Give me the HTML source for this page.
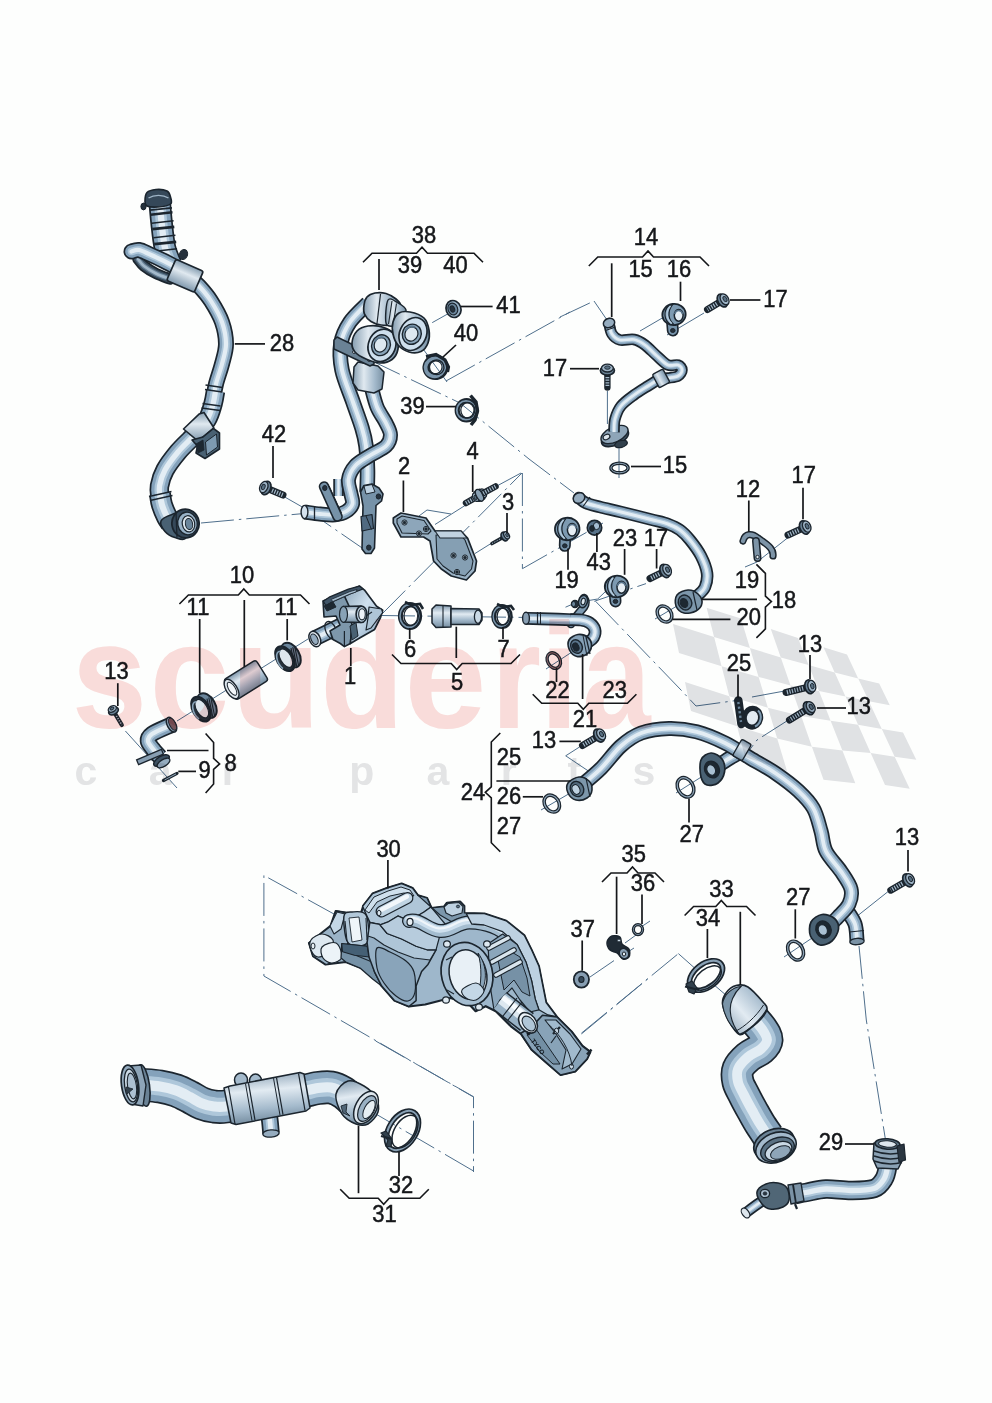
<!DOCTYPE html>
<html><head><meta charset="utf-8"><title>Coolant pipes diagram</title>
<style>html,body{margin:0;padding:0;background:#fdfefd}svg{display:block}
text{font-family:"Liberation Sans",Arial,sans-serif;fill:#15171a;stroke:#15171a;stroke-width:0.5px}</style></head>
<body><svg width="992" height="1403" viewBox="0 0 992 1403">
<defs>
<linearGradient id="gcyl" x1="0" y1="0" x2="1" y2="0"><stop offset="0" stop-color="#869eb1"/><stop offset="0.35" stop-color="#e0e9f0"/><stop offset="0.7" stop-color="#a4bacc"/><stop offset="1" stop-color="#768ea1"/></linearGradient>
<linearGradient id="gcol" x1="0" y1="0" x2="0" y2="1"><stop offset="0" stop-color="#869eb1"/><stop offset="0.4" stop-color="#e0e9f0"/><stop offset="1" stop-color="#7f98ad"/></linearGradient>
<linearGradient id="gcylh" x1="0" y1="0" x2="0" y2="1"><stop offset="0" stop-color="#7f98ad"/><stop offset="0.35" stop-color="#e2ebf2"/><stop offset="0.7" stop-color="#a4bacc"/><stop offset="1" stop-color="#768ea1"/></linearGradient>
<linearGradient id="gtube" x1="0" y1="0" x2="0.15" y2="1"><stop offset="0" stop-color="#7f98ad"/><stop offset="0.4" stop-color="#e2ebf2"/><stop offset="0.75" stop-color="#a4bacc"/><stop offset="1" stop-color="#768ea1"/></linearGradient>
<linearGradient id="gtube2" x1="0" y1="1" x2="1" y2="0"><stop offset="0" stop-color="#7f98ad"/><stop offset="0.45" stop-color="#e2ebf2"/><stop offset="0.8" stop-color="#a4bacc"/><stop offset="1" stop-color="#768ea1"/></linearGradient>
<linearGradient id="gpump" x1="0" y1="0" x2="1" y2="1"><stop offset="0" stop-color="#88a2b6"/><stop offset="0.45" stop-color="#d0e1ef"/><stop offset="0.75" stop-color="#a4bdd2"/><stop offset="1" stop-color="#7893a8"/></linearGradient>
<clipPath id="flagclip"><path d="M668 603L705 612L760 640L832 672L892 700L922 760L906 792L850 772L790 748L742 726L706 702L690 692Z"/></clipPath>
</defs>
<rect width="992" height="1403" fill="#fdfefd"/>
<path d="M201 523L304 513.5" fill="none" stroke="#4f6f8c" stroke-width="1" stroke-dasharray="33 5 2.5 5"/>
<path d="M283 496L304 508" fill="none" stroke="#4f6f8c" stroke-width="1"/>
<path d="M304 508L368 552" fill="none" stroke="#4f6f8c" stroke-width="1" stroke-dasharray="33 5 2.5 5"/>
<path d="M461 306.5L428 325" fill="none" stroke="#4f6f8c" stroke-width="1" stroke-dasharray="33 5 2.5 5"/>
<path d="M413 335L447 382" fill="none" stroke="#4f6f8c" stroke-width="1"/>
<path d="M446 381L570 312" fill="none" stroke="#4f6f8c" stroke-width="1" stroke-dasharray="33 5 2.5 5"/>
<path d="M370 360L460 403L529 459L574 493" fill="none" stroke="#4f6f8c" stroke-width="1" stroke-dasharray="33 5 2.5 5"/>
<path d="M560 317L594 301" fill="none" stroke="#4f6f8c" stroke-width="1" stroke-dasharray="33 5 2.5 5"/>
<path d="M594 301L607 320" fill="none" stroke="#4f6f8c" stroke-width="1"/>
<path d="M640 331L664 317" fill="none" stroke="#4f6f8c" stroke-width="1"/>
<path d="M667 335L704 313" fill="none" stroke="#4f6f8c" stroke-width="1"/>
<path d="M607.4 391L607.4 429" fill="none" stroke="#4f6f8c" stroke-width="1" stroke-dasharray="33 5 2.5 5"/>
<path d="M619 446L619 478" fill="none" stroke="#4f6f8c" stroke-width="1"/>
<path d="M382 614L522 473" fill="none" stroke="#4f6f8c" stroke-width="1" stroke-dasharray="33 5 2.5 5"/>
<path d="M522.4 473L522.4 568.7L603 523" fill="none" stroke="#4f6f8c" stroke-width="1" stroke-dasharray="33 5 2.5 5"/>
<path d="M419 516L427 510L451 514" fill="none" stroke="#4f6f8c" stroke-width="1"/>
<path d="M435 524.5L465 505.5" fill="none" stroke="#4f6f8c" stroke-width="1"/>
<path d="M495 487L521 473" fill="none" stroke="#4f6f8c" stroke-width="1"/>
<path d="M491 543.5L475 553.5" fill="none" stroke="#4f6f8c" stroke-width="1"/>
<path d="M382 615.5L530 617.5" fill="none" stroke="#4f6f8c" stroke-width="1" stroke-dasharray="33 5 2.5 5"/>
<path d="M177 721L308 639" fill="none" stroke="#4f6f8c" stroke-width="1"/>
<path d="M125.4 731L177 788" fill="none" stroke="#4f6f8c" stroke-width="1" stroke-dasharray="33 5 2.5 5"/>
<path d="M565.5 607.2L571.5 604.6" fill="none" stroke="#4f6f8c" stroke-width="1"/>
<path d="M587 600.8L597.7 599L606 591" fill="none" stroke="#4f6f8c" stroke-width="1"/>
<path d="M594.3 601.3L646 583.6" fill="none" stroke="#4f6f8c" stroke-width="1" stroke-dasharray="33 5 2.5 5"/>
<path d="M595.6 601.3L681 690L696 706L740 700" fill="none" stroke="#4f6f8c" stroke-width="1" stroke-dasharray="33 5 2.5 5"/>
<path d="M752 697L790 690" fill="none" stroke="#4f6f8c" stroke-width="1" stroke-dasharray="33 5 2.5 5"/>
<path d="M546 669L572 652" fill="none" stroke="#4f6f8c" stroke-width="1"/>
<path d="M655 619L682 603" fill="none" stroke="#4f6f8c" stroke-width="1"/>
<path d="M757 562L790 536" fill="none" stroke="#4f6f8c" stroke-width="1"/>
<path d="M745 567L757 562" fill="none" stroke="#4f6f8c" stroke-width="1"/>
<path d="M579.5 747L565.7 755.8L588.4 771" fill="none" stroke="#4f6f8c" stroke-width="1"/>
<path d="M541 810L572 792" fill="none" stroke="#4f6f8c" stroke-width="1"/>
<path d="M676 793L706 774" fill="none" stroke="#4f6f8c" stroke-width="1"/>
<path d="M790 719L757 740L748 752" fill="none" stroke="#4f6f8c" stroke-width="1" stroke-dasharray="33 5 2.5 5"/>
<path d="M888 891.6L856 917" fill="none" stroke="#4f6f8c" stroke-width="1"/>
<path d="M784 957L818 934" fill="none" stroke="#4f6f8c" stroke-width="1"/>
<path d="M859 946L866.3 1020L885.2 1138" fill="none" stroke="#4f6f8c" stroke-width="1" stroke-dasharray="33 5 2.5 5"/>
<path d="M590 977L614 960.6" fill="none" stroke="#4f6f8c" stroke-width="1"/>
<path d="M625 943L636 935" fill="none" stroke="#4f6f8c" stroke-width="1"/>
<path d="M641 927L650 921" fill="none" stroke="#4f6f8c" stroke-width="1"/>
<path d="M623 955L634 948" fill="none" stroke="#4f6f8c" stroke-width="1"/>
<path d="M581.4 1033.2L678.4 953.6" fill="none" stroke="#4f6f8c" stroke-width="1" stroke-dasharray="33 5 2.5 5"/>
<path d="M678.4 953.6L694.8 968.2" fill="none" stroke="#4f6f8c" stroke-width="1"/>
<path d="M713 984L727 996" fill="none" stroke="#4f6f8c" stroke-width="1"/>
<path d="M581.5 1033.9L650 977" fill="none" stroke="#4f6f8c" stroke-width="1" stroke-dasharray="33 5 2.5 5"/>
<path d="M337 915.7L263.9 875.4L263.9 976L473.5 1097" fill="none" stroke="#4f6f8c" stroke-width="1" stroke-dasharray="33 5 2.5 5"/>
<path d="M375.7 1041L473.5 1096.7L473.5 1172" fill="none" stroke="#4f6f8c" stroke-width="1" stroke-dasharray="33 5 2.5 5"/>
<path d="M473.5 1171L365.6 1108" fill="none" stroke="#4f6f8c" stroke-width="1" stroke-dasharray="33 5 2.5 5"/>
<g fill="none" stroke-linejoin="round" stroke-linecap="round">
<path d="M170 279C167.7 278.1 160.3 275.7 156 273.5C151.7 271.3 147 268.4 144 266C141 263.6 139 260.2 138 259" stroke="#1b252e" stroke-width="11.5"/>
<path d="M170 279C167.7 278.1 160.3 275.7 156 273.5C151.7 271.3 147 268.4 144 266C141 263.6 139 260.2 138 259" stroke="#3a4d5e" stroke-width="8.1"/>
<path d="M170 279C167.7 278.1 160.3 275.7 156 273.5C151.7 271.3 147 268.4 144 266C141 263.6 139 260.2 138 259" stroke="#6a8398" stroke-width="4.9"/>
<path d="M170 279C167.7 278.1 160.3 275.7 156 273.5C151.7 271.3 147 268.4 144 266C141 263.6 139 260.2 138 259" stroke="#a4b9ca" stroke-width="2.7"/>
</g>
<g fill="none" stroke-linejoin="round" stroke-linecap="butt">
<path d="M159.5 199C159.8 202.8 160.6 213.8 161.5 222C162.4 230.2 163.4 241 165 248C166.6 255 170 261.3 171 264" stroke="#1b252e" stroke-width="22.5"/>
<path d="M159.5 199C159.8 202.8 160.6 213.8 161.5 222C162.4 230.2 163.4 241 165 248C166.6 255 170 261.3 171 264" stroke="#84a2bb" stroke-width="19.1"/>
<path d="M159.5 199C159.8 202.8 160.6 213.8 161.5 222C162.4 230.2 163.4 241 165 248C166.6 255 170 261.3 171 264" stroke="#aec7da" stroke-width="11.5"/>
<path d="M159.5 199C159.8 202.8 160.6 213.8 161.5 222C162.4 230.2 163.4 241 165 248C166.6 255 170 261.3 171 264" stroke="#e3edf4" stroke-width="6.3"/>
</g>
<line x1="149.9" y1="210.2" x2="171.9" y2="207.8" stroke="#1b252e" stroke-width="1.8" />
<line x1="150.5" y1="214.7" x2="172.5" y2="212.3" stroke="#1b252e" stroke-width="2.6" />
<line x1="151.6" y1="223.2" x2="173.6" y2="220.8" stroke="#1b252e" stroke-width="1.6" />
<line x1="152.3" y1="229.2" x2="174.3" y2="226.8" stroke="#1b252e" stroke-width="2.8" />
<line x1="153.4" y1="237.7" x2="175.4" y2="235.3" stroke="#1b252e" stroke-width="1.6" />
<line x1="154.2" y1="244.2" x2="176.2" y2="241.8" stroke="#1b252e" stroke-width="2.8" />
<line x1="155.1" y1="251.2" x2="177.1" y2="248.8" stroke="#1b252e" stroke-width="1.6" />
<path d="M145 201C145 198.8 145.2 194.4 147 192.5C148.8 190.6 152.7 189.8 156 189.5C159.3 189.2 164.6 189.8 167 191C169.4 192.2 169.9 194.8 170.5 197C171.1 199.2 172.6 202.3 170.5 204C168.4 205.7 161.9 206.7 158 207C154.1 207.3 149.2 207 147 206C144.8 205 145 203.2 145 201Z" fill="#354859" stroke="#1b252e" stroke-width="1.6" stroke-linejoin="round" />
<path d="M148.5 198C154 194.5 163 194.5 168.5 198" fill="none" stroke="#9eb4c6" stroke-width="1.4"/>
<ellipse cx="143.5" cy="206.5" rx="2.6" ry="3.4" transform="rotate(0 143.5 206.5)" fill="#25313c" stroke="#1b252e" stroke-width="1"/>
<g fill="none" stroke-linejoin="round" stroke-linecap="round">
<path d="M178 268.5C175.7 267.2 168.7 263.3 164 261C159.3 258.7 154.2 256.3 150 254.5C145.8 252.7 142.1 250.5 139 250C135.9 249.5 132.8 251.2 131.5 251.5" stroke="#1b252e" stroke-width="16"/>
<path d="M178 268.5C175.7 267.2 168.7 263.3 164 261C159.3 258.7 154.2 256.3 150 254.5C145.8 252.7 142.1 250.5 139 250C135.9 249.5 132.8 251.2 131.5 251.5" stroke="#84a2bb" stroke-width="12.6"/>
<path d="M178 268.5C175.7 267.2 168.7 263.3 164 261C159.3 258.7 154.2 256.3 150 254.5C145.8 252.7 142.1 250.5 139 250C135.9 249.5 132.8 251.2 131.5 251.5" stroke="#aec7da" stroke-width="7.6"/>
<path d="M178 268.5C175.7 267.2 168.7 263.3 164 261C159.3 258.7 154.2 256.3 150 254.5C145.8 252.7 142.1 250.5 139 250C135.9 249.5 132.8 251.2 131.5 251.5" stroke="#e3edf4" stroke-width="4.2"/>
</g>
<g fill="none" stroke-linejoin="round" stroke-linecap="butt">
<path d="M190 278C191.5 279.3 195.5 282.2 199 286C202.5 289.8 207.2 295 211 301C214.8 307 219.5 314.8 222 322C224.5 329.2 226 337 226 344C226 351 223.7 357.3 222 364C220.3 370.7 217.5 378 216 384C214.5 390 214 395.3 213 400C212 404.7 210.5 410 210 412" stroke="#1b252e" stroke-width="16"/>
<path d="M190 278C191.5 279.3 195.5 282.2 199 286C202.5 289.8 207.2 295 211 301C214.8 307 219.5 314.8 222 322C224.5 329.2 226 337 226 344C226 351 223.7 357.3 222 364C220.3 370.7 217.5 378 216 384C214.5 390 214 395.3 213 400C212 404.7 210.5 410 210 412" stroke="#84a2bb" stroke-width="12.6"/>
<path d="M190 278C191.5 279.3 195.5 282.2 199 286C202.5 289.8 207.2 295 211 301C214.8 307 219.5 314.8 222 322C224.5 329.2 226 337 226 344C226 351 223.7 357.3 222 364C220.3 370.7 217.5 378 216 384C214.5 390 214 395.3 213 400C212 404.7 210.5 410 210 412" stroke="#aec7da" stroke-width="7.6"/>
<path d="M190 278C191.5 279.3 195.5 282.2 199 286C202.5 289.8 207.2 295 211 301C214.8 307 219.5 314.8 222 322C224.5 329.2 226 337 226 344C226 351 223.7 357.3 222 364C220.3 370.7 217.5 378 216 384C214.5 390 214 395.3 213 400C212 404.7 210.5 410 210 412" stroke="#e3edf4" stroke-width="4.2"/>
</g>
<g transform="rotate(23.5 185 275.8)">
<rect x="170" y="264.3" width="30" height="23" rx="2" fill="url(#gcol)" stroke="#1b252e" stroke-width="1.7"/>
</g>
<ellipse cx="183.5" cy="254.5" rx="4" ry="5" transform="rotate(20 183.5 254.5)" fill="#25313c" stroke="#1b252e" stroke-width="1"/>
<g fill="none" stroke-linejoin="round" stroke-linecap="butt">
<path d="M215.5 391C215.1 393.2 214.4 399.2 213 404C211.6 408.8 210.2 414.8 207 420C203.8 425.2 198.8 430.2 194 435.5C189.2 440.8 182.8 446.2 178 452C173.2 457.8 168.1 464.3 165 470C161.9 475.7 160.3 481.5 159.5 486C158.7 490.5 159.9 495.2 160 497" stroke="#1b252e" stroke-width="19.5"/>
<path d="M215.5 391C215.1 393.2 214.4 399.2 213 404C211.6 408.8 210.2 414.8 207 420C203.8 425.2 198.8 430.2 194 435.5C189.2 440.8 182.8 446.2 178 452C173.2 457.8 168.1 464.3 165 470C161.9 475.7 160.3 481.5 159.5 486C158.7 490.5 159.9 495.2 160 497" stroke="#84a2bb" stroke-width="16.1"/>
<path d="M215.5 391C215.1 393.2 214.4 399.2 213 404C211.6 408.8 210.2 414.8 207 420C203.8 425.2 198.8 430.2 194 435.5C189.2 440.8 182.8 446.2 178 452C173.2 457.8 168.1 464.3 165 470C161.9 475.7 160.3 481.5 159.5 486C158.7 490.5 159.9 495.2 160 497" stroke="#aec7da" stroke-width="9.7"/>
<path d="M215.5 391C215.1 393.2 214.4 399.2 213 404C211.6 408.8 210.2 414.8 207 420C203.8 425.2 198.8 430.2 194 435.5C189.2 440.8 182.8 446.2 178 452C173.2 457.8 168.1 464.3 165 470C161.9 475.7 160.3 481.5 159.5 486C158.7 490.5 159.9 495.2 160 497" stroke="#e3edf4" stroke-width="5.3"/>
</g>
<g fill="none" stroke-linejoin="round" stroke-linecap="butt">
<path d="M160 494C160.3 495.8 160.8 501.2 162 505C163.2 508.8 165.5 514 167 517C168.5 520 170.3 522 171 523" stroke="#1b252e" stroke-width="22"/>
<path d="M160 494C160.3 495.8 160.8 501.2 162 505C163.2 508.8 165.5 514 167 517C168.5 520 170.3 522 171 523" stroke="#84a2bb" stroke-width="18.6"/>
<path d="M160 494C160.3 495.8 160.8 501.2 162 505C163.2 508.8 165.5 514 167 517C168.5 520 170.3 522 171 523" stroke="#aec7da" stroke-width="11.2"/>
<path d="M160 494C160.3 495.8 160.8 501.2 162 505C163.2 508.8 165.5 514 167 517C168.5 520 170.3 522 171 523" stroke="#e3edf4" stroke-width="6.1"/>
</g>
<path d="M183.5 429L199.3 413.9L204 412.5L213.8 427.8L198 441.1Z" fill="url(#gcol)" stroke="#1b252e" stroke-width="1.6" stroke-linejoin="round" />
<line x1="205.5" y1="385" x2="222.5" y2="387.5" stroke="#1b252e" stroke-width="1.3" />
<line x1="205" y1="389.5" x2="222" y2="392" stroke="#1b252e" stroke-width="1.3" />
<line x1="202.5" y1="403.5" x2="220.5" y2="406" stroke="#1b252e" stroke-width="1.3" />
<line x1="201.5" y1="408" x2="220" y2="410.5" stroke="#1b252e" stroke-width="1.3" />
<line x1="149" y1="496.5" x2="171.5" y2="491.5" stroke="#1b252e" stroke-width="1.3" />
<line x1="150" y1="500.5" x2="172.5" y2="495.5" stroke="#1b252e" stroke-width="1.3" />
<path d="M203 437L213.5 428.5L219.5 433L219.5 449L205 458.5L196 453L197.5 446L192 440Z" fill="#496173" stroke="#1b252e" stroke-width="1.6" stroke-linejoin="round" />
<path d="M205.5 442L216.5 434L217.5 447L206.5 455Z" fill="#7d9ab1" stroke="#1b252e" stroke-width="1" stroke-linejoin="round" />
<path d="M196 444L203 440L204 450L198 453Z" fill="#1d2831" stroke="#1b252e" stroke-width="0.8" stroke-linejoin="round" />
<path d="M161 521C162.2 518.2 168.2 515.8 172 514.5C175.8 513.2 181.7 509.2 184 513C186.3 516.8 187.5 533.4 186 537.5C184.5 541.6 178.5 538.5 175 537.5C171.5 536.5 167.3 534.2 165 531.5C162.7 528.8 159.8 523.8 161 521Z" fill="#496173" stroke="#1b252e" stroke-width="1.6" stroke-linejoin="round" />
<ellipse cx="185.5" cy="523.5" rx="13.6" ry="14.4" transform="rotate(-10 185.5 523.5)" fill="#354859" stroke="#1b252e" stroke-width="1.8"/>
<ellipse cx="187.5" cy="523.5" rx="9.8" ry="11.4" transform="rotate(-10 187.5 523.5)" fill="#98b2c7" stroke="#1b252e" stroke-width="1.4"/>
<ellipse cx="188.5" cy="523.8" rx="6.2" ry="8.2" transform="rotate(-10 188.5 523.8)" fill="#dde8f0" stroke="#1b252e" stroke-width="1.2"/>
<ellipse cx="189" cy="524" rx="3.6" ry="5.6" transform="rotate(-10 189 524)" fill="#6a859b" stroke="#1b252e" stroke-width="1"/>
<line x1="176" y1="511.5" x2="177" y2="537.5" stroke="#1b252e" stroke-width="1.3" />
<g fill="none" stroke-linejoin="round" stroke-linecap="butt">
<path d="M368 303C365 306.2 354.5 315.3 350 322C345.5 328.7 342.3 335 341 343C339.7 351 340 360.2 342 370C344 379.8 349.7 392.3 353 402C356.3 411.7 359.8 420.7 362 428C364.2 435.3 365.1 439 366 446C366.9 453 367.3 462.3 367.5 470C367.7 477.7 367.1 488.3 367 492" stroke="#1b252e" stroke-width="15.5"/>
<path d="M368 303C365 306.2 354.5 315.3 350 322C345.5 328.7 342.3 335 341 343C339.7 351 340 360.2 342 370C344 379.8 349.7 392.3 353 402C356.3 411.7 359.8 420.7 362 428C364.2 435.3 365.1 439 366 446C366.9 453 367.3 462.3 367.5 470C367.7 477.7 367.1 488.3 367 492" stroke="#84a2bb" stroke-width="12.1"/>
<path d="M368 303C365 306.2 354.5 315.3 350 322C345.5 328.7 342.3 335 341 343C339.7 351 340 360.2 342 370C344 379.8 349.7 392.3 353 402C356.3 411.7 359.8 420.7 362 428C364.2 435.3 365.1 439 366 446C366.9 453 367.3 462.3 367.5 470C367.7 477.7 367.1 488.3 367 492" stroke="#aec7da" stroke-width="7.3"/>
<path d="M368 303C365 306.2 354.5 315.3 350 322C345.5 328.7 342.3 335 341 343C339.7 351 340 360.2 342 370C344 379.8 349.7 392.3 353 402C356.3 411.7 359.8 420.7 362 428C364.2 435.3 365.1 439 366 446C366.9 453 367.3 462.3 367.5 470C367.7 477.7 367.1 488.3 367 492" stroke="#e3edf4" stroke-width="4"/>
</g>
<g fill="none" stroke-linejoin="round" stroke-linecap="butt">
<path d="M338.5 479L338.5 496" stroke="#1b252e" stroke-width="10.5"/>
<path d="M338.5 479L338.5 496" stroke="#84a2bb" stroke-width="7.1"/>
<path d="M338.5 479L338.5 496" stroke="#aec7da" stroke-width="4.3"/>
<path d="M338.5 479L338.5 496" stroke="#e3edf4" stroke-width="2.3"/>
</g>
<g fill="none" stroke-linejoin="round" stroke-linecap="butt">
<path d="M371 386C372 389.5 374.5 400.8 377 407C379.5 413.2 383.8 418.3 386 423C388.2 427.7 390.5 431.2 390.5 435C390.5 438.8 389.4 442.6 386 446C382.6 449.4 375.1 452.2 370 455.5C364.9 458.8 359.1 461.5 355.5 465.5C351.9 469.5 349.2 474.8 348.5 479.5C347.8 484.2 350.3 489.9 351 494C351.7 498.1 353.3 501.1 352.5 504C351.7 506.9 348.9 509.7 346 511.5C343.1 513.3 339.3 514.4 335 514.8C330.7 515.2 325.1 514.5 320 514C314.9 513.5 307.1 512.3 304.5 512" stroke="#1b252e" stroke-width="15"/>
<path d="M371 386C372 389.5 374.5 400.8 377 407C379.5 413.2 383.8 418.3 386 423C388.2 427.7 390.5 431.2 390.5 435C390.5 438.8 389.4 442.6 386 446C382.6 449.4 375.1 452.2 370 455.5C364.9 458.8 359.1 461.5 355.5 465.5C351.9 469.5 349.2 474.8 348.5 479.5C347.8 484.2 350.3 489.9 351 494C351.7 498.1 353.3 501.1 352.5 504C351.7 506.9 348.9 509.7 346 511.5C343.1 513.3 339.3 514.4 335 514.8C330.7 515.2 325.1 514.5 320 514C314.9 513.5 307.1 512.3 304.5 512" stroke="#84a2bb" stroke-width="11.6"/>
<path d="M371 386C372 389.5 374.5 400.8 377 407C379.5 413.2 383.8 418.3 386 423C388.2 427.7 390.5 431.2 390.5 435C390.5 438.8 389.4 442.6 386 446C382.6 449.4 375.1 452.2 370 455.5C364.9 458.8 359.1 461.5 355.5 465.5C351.9 469.5 349.2 474.8 348.5 479.5C347.8 484.2 350.3 489.9 351 494C351.7 498.1 353.3 501.1 352.5 504C351.7 506.9 348.9 509.7 346 511.5C343.1 513.3 339.3 514.4 335 514.8C330.7 515.2 325.1 514.5 320 514C314.9 513.5 307.1 512.3 304.5 512" stroke="#aec7da" stroke-width="7"/>
<path d="M371 386C372 389.5 374.5 400.8 377 407C379.5 413.2 383.8 418.3 386 423C388.2 427.7 390.5 431.2 390.5 435C390.5 438.8 389.4 442.6 386 446C382.6 449.4 375.1 452.2 370 455.5C364.9 458.8 359.1 461.5 355.5 465.5C351.9 469.5 349.2 474.8 348.5 479.5C347.8 484.2 350.3 489.9 351 494C351.7 498.1 353.3 501.1 352.5 504C351.7 506.9 348.9 509.7 346 511.5C343.1 513.3 339.3 514.4 335 514.8C330.7 515.2 325.1 514.5 320 514C314.9 513.5 307.1 512.3 304.5 512" stroke="#e3edf4" stroke-width="3.8"/>
</g>
<ellipse cx="304.5" cy="512" rx="3.4" ry="6.6" transform="rotate(0 304.5 512)" fill="#d4e2ee" stroke="#1b252e" stroke-width="1.4"/>
<line x1="314.5" y1="506" x2="314.5" y2="520.5" stroke="#1b252e" stroke-width="1.3" />
<path d="M324 486.5L337.5 516.5" fill="none" stroke="#1b252e" stroke-width="10.5" stroke-linecap="round"/>
<path d="M324 486.5L337.5 516.5" fill="none" stroke="#7692a8" stroke-width="7.4" stroke-linecap="round"/>
<ellipse cx="324.8" cy="488" rx="2.2" ry="2.6" transform="rotate(0 324.8 488)" fill="#25313c" stroke="#1b252e" stroke-width="1"/>
<line x1="329" y1="486" x2="341.5" y2="513" stroke="#1b252e" stroke-width="1" />
<path d="M360.5 492L364 485.5L372 484L379 488L383 494L381.5 501L376 505.5L374.5 548L371 553.5L365.5 553.5L362 549L363 506Z" fill="#7692a8" stroke="#1b252e" stroke-width="1.6" stroke-linejoin="round" />
<path d="M361 516.5L372 514.5L373.5 528.5L362 531Z" fill="#506a81" stroke="#1b252e" stroke-width="1.2" stroke-linejoin="round" />
<line x1="366" y1="516" x2="371.5" y2="529.5" stroke="#1b252e" stroke-width="1" />
<ellipse cx="378.5" cy="496.5" rx="2.3" ry="2.6" transform="rotate(0 378.5 496.5)" fill="#25313c" stroke="#1b252e" stroke-width="1"/>
<ellipse cx="368.8" cy="547.6" rx="2.3" ry="2.6" transform="rotate(0 368.8 547.6)" fill="#25313c" stroke="#1b252e" stroke-width="1"/>
<path d="M364 486L372 484.5L375 492L366 494Z" fill="#bed2e2" stroke="#1b252e" stroke-width="1" stroke-linejoin="round" />
<path d="M354 367L358 362L378 366L384 372L382 389L374 393L358 390L353 383Z" fill="url(#gcyl)" stroke="#1b252e" stroke-width="1.5" stroke-linejoin="round" />
<path d="M334 340L337 337L374 355L374 364L370 366L334 349Z" fill="#6a8295" stroke="#1b252e" stroke-width="1.5" stroke-linejoin="round" />
<ellipse cx="369" cy="360" rx="1.5" ry="1.5" transform="rotate(0 369 360)" fill="#dde6ed" stroke="#1b252e" stroke-width="0.9"/>
<ellipse cx="354" cy="352" rx="1.5" ry="1.5" transform="rotate(0 354 352)" fill="#dde6ed" stroke="#1b252e" stroke-width="0.9"/>
<path d="M352 343C352.3 339.5 354.3 333.8 357 331C359.7 328.2 363.5 326.6 368 326C372.5 325.4 379.3 325.8 384 327.5C388.7 329.2 393.7 332.4 396 336C398.3 339.6 398.7 345.1 398 349C397.3 352.9 395 357.2 392 359.5C389 361.8 384.3 363.1 380 363C375.7 362.9 370.2 360.8 366 359C361.8 357.2 357.3 354.7 355 352C352.7 349.3 351.7 346.5 352 343Z" fill="url(#gcyl)" stroke="#1b252e" stroke-width="1.7" stroke-linejoin="round" />
<ellipse cx="382" cy="345.3" rx="13.6" ry="16.6" transform="rotate(22 382 345.3)" fill="#cedfed" stroke="#1b252e" stroke-width="1.7"/>
<ellipse cx="381" cy="345.2" rx="9.2" ry="10.6" transform="rotate(22 381 345.2)" fill="#88a3b8" stroke="#1b252e" stroke-width="1.4"/>
<ellipse cx="380.5" cy="344.8" rx="6.2" ry="7.4" transform="rotate(22 380.5 344.8)" fill="#dde8f0" stroke="#1b252e" stroke-width="1.2"/>
<path d="M375 341.5a6.2 7.4 22 0 1 9 -3.5" fill="none" stroke="#5a758b" stroke-width="2"/>
<path d="M364 305C364.4 302.2 365.2 299 367 297C368.8 295 371.8 293.6 375 293C378.2 292.4 382.5 292.5 386 293.5C389.5 294.5 393.5 296.9 396 299C398.5 301.1 400.5 303 401 306C401.5 309 400.5 313.9 399 317C397.5 320.1 395 323.2 392 324.5C389 325.8 384.5 325.5 381 325C377.5 324.5 373.8 323.3 371 321.5C368.2 319.7 365.7 316.8 364.5 314C363.3 311.2 363.6 307.8 364 305Z" fill="url(#gcyl)" stroke="#1b252e" stroke-width="1.7" stroke-linejoin="round" />
<line x1="380.5" y1="294" x2="377" y2="323.5" stroke="#1b252e" stroke-width="1.2" />
<path d="M388 300C390 296.7 395 301.3 398 303C401 304.7 405.3 306.8 406 310C406.7 313.2 404 319.3 402 322C400 324.7 396.7 325.8 394 326C391.3 326.2 387 327.3 386 323C385 318.7 386 303.3 388 300Z" fill="url(#gcyl)" stroke="#1b252e" stroke-width="1.4" stroke-linejoin="round" />
<line x1="392" y1="301" x2="388.5" y2="324" stroke="#1b252e" stroke-width="1.1" />
<line x1="396.5" y1="303.5" x2="393" y2="325.5" stroke="#1b252e" stroke-width="1.1" />
<path d="M393 322C394 318.5 396.2 314.7 399 313C401.8 311.3 405.8 311.2 410 312C414.2 312.8 420.8 315 424 318C427.2 321 428.3 325.8 429 330C429.7 334.2 429.3 339.4 428 343C426.7 346.6 424.2 350 421 351.5C417.8 353 412.8 353.1 409 352C405.2 350.9 400.7 348 398 345C395.3 342 393.8 337.8 393 334C392.2 330.2 392 325.5 393 322Z" fill="url(#gcyl)" stroke="#1b252e" stroke-width="1.7" stroke-linejoin="round" />
<ellipse cx="413" cy="334" rx="13.4" ry="17" transform="rotate(24 413 334)" fill="#cedfed" stroke="#1b252e" stroke-width="1.7"/>
<ellipse cx="411.8" cy="334.2" rx="9.4" ry="10.2" transform="rotate(24 411.8 334.2)" fill="#88a3b8" stroke="#1b252e" stroke-width="1.4"/>
<ellipse cx="411.4" cy="334" rx="6.4" ry="7.2" transform="rotate(24 411.4 334)" fill="#dde8f0" stroke="#1b252e" stroke-width="1.2"/>
<path d="M405.8 330.5a6.4 7.2 24 0 1 9 -3.2" fill="none" stroke="#5a758b" stroke-width="2"/>
<ellipse cx="453.5" cy="309" rx="7.4" ry="8.6" transform="rotate(-20 453.5 309)" fill="#98b2c7" stroke="#1b252e" stroke-width="1.7"/>
<ellipse cx="452.8" cy="309" rx="4.8" ry="6" transform="rotate(-20 452.8 309)" fill="#6a859b" stroke="#1b252e" stroke-width="1.2"/>
<ellipse cx="452.4" cy="309" rx="2.2" ry="3.2" transform="rotate(-20 452.4 309)" fill="#25313c" stroke="#1b252e" stroke-width="1"/>
<ellipse cx="435.5" cy="367.3" rx="9.6" ry="9.2" transform="rotate(-20 435.5 367.3)" fill="none" stroke="#1b252e" stroke-width="7"/>
<ellipse cx="434.9" cy="367.3" rx="9.4" ry="9" transform="rotate(-20 434.9 367.3)" fill="none" stroke="#7a95ab" stroke-width="3.6"/>
<ellipse cx="436.7" cy="367.3" rx="7.2" ry="7.4" transform="rotate(-20 436.7 367.3)" fill="none" stroke="#1b252e" stroke-width="1.3"/>
<path d="M426 356.5L436 354.5L445 360L448.5 367L447.5 372" fill="none" stroke="#1b252e" stroke-width="3.2" stroke-linejoin="miter"/>
<ellipse cx="466.6" cy="410.3" rx="9.4" ry="9.6" transform="rotate(0 466.6 410.3)" fill="none" stroke="#1b252e" stroke-width="5.2"/>
<ellipse cx="466" cy="410.3" rx="9.2" ry="9.4" transform="rotate(0 466 410.3)" fill="none" stroke="#7a95ab" stroke-width="1.8"/>
<ellipse cx="467.8" cy="410.3" rx="7" ry="7.8" transform="rotate(0 467.8 410.3)" fill="none" stroke="#1b252e" stroke-width="1.3"/>
<path d="M470.5 395.5L476 402L477.5 411L475 420L471 425" fill="none" stroke="#1b252e" stroke-width="3.4" stroke-linejoin="miter"/>
<line x1="269.2" y1="489.3" x2="283" y2="495" stroke="#1b252e" stroke-width="7" stroke-linecap="round"/>
<line x1="272" y1="490.5" x2="283" y2="495" stroke="#a4b9ca" stroke-width="4.4" stroke-dasharray="1.2 1.4"/>
<ellipse cx="266" cy="488" rx="4.6" ry="7" transform="rotate(22.4 266 488)" fill="#6a8295" stroke="#1b252e" stroke-width="1.7"/>
<ellipse cx="263.8" cy="487.1" rx="3.9" ry="5.9" transform="rotate(22.4 263.8 487.1)" fill="#9eb4c6" stroke="#1b252e" stroke-width="1.3"/>
<ellipse cx="263.3" cy="486.9" rx="1.7" ry="2.8" transform="rotate(22.4 263.3 486.9)" fill="#587083" stroke="#1b252e" stroke-width="0.9"/>
<path d="M393.3 518L401 513L426 518L435 531L461 531L467.7 538.4L476.5 561L475 571L466.4 580L451.3 576L441 568.7L433.6 561L430 541L423.6 537L401 537L393.3 523Z" fill="#9ab2c5" stroke="#1b252e" stroke-width="1.7" stroke-linejoin="round" />
<path d="M397 519L402 516L424 520.5L431 531L428 534L402 533L397 523Z" fill="#8da6ba" stroke="#1b252e" stroke-width="1.1" stroke-linejoin="round" />
<path d="M436 535L460 534.5L465 540L473 561L471.5 569L465 576L453 573L443 566L437 559Z" fill="#859fb3" stroke="#1b252e" stroke-width="1.1" stroke-linejoin="round" />
<path d="M435 531L461 531L467 538L440 538Z" fill="#c1d2e0" stroke="#1b252e" stroke-width="1.1" stroke-linejoin="round" />
<ellipse cx="404.5" cy="522.5" rx="2.6" ry="2.6" transform="rotate(0 404.5 522.5)" fill="#bed2e2" stroke="#1b252e" stroke-width="1"/>
<ellipse cx="404.5" cy="522.5" rx="1.5" ry="1.5" transform="rotate(0 404.5 522.5)" fill="#1d2831" stroke="#1b252e" stroke-width="0.6"/>
<ellipse cx="419" cy="533.5" rx="2.6" ry="2.6" transform="rotate(0 419 533.5)" fill="#bed2e2" stroke="#1b252e" stroke-width="1"/>
<ellipse cx="419" cy="533.5" rx="1.5" ry="1.5" transform="rotate(0 419 533.5)" fill="#1d2831" stroke="#1b252e" stroke-width="0.6"/>
<ellipse cx="426" cy="529" rx="2.6" ry="2.6" transform="rotate(0 426 529)" fill="#bed2e2" stroke="#1b252e" stroke-width="1"/>
<ellipse cx="426" cy="529" rx="1.5" ry="1.5" transform="rotate(0 426 529)" fill="#1d2831" stroke="#1b252e" stroke-width="0.6"/>
<ellipse cx="453.5" cy="555.5" rx="2.6" ry="2.6" transform="rotate(0 453.5 555.5)" fill="#bed2e2" stroke="#1b252e" stroke-width="1"/>
<ellipse cx="453.5" cy="555.5" rx="1.5" ry="1.5" transform="rotate(0 453.5 555.5)" fill="#1d2831" stroke="#1b252e" stroke-width="0.6"/>
<ellipse cx="465" cy="557.5" rx="2.6" ry="2.6" transform="rotate(0 465 557.5)" fill="#bed2e2" stroke="#1b252e" stroke-width="1"/>
<ellipse cx="465" cy="557.5" rx="1.5" ry="1.5" transform="rotate(0 465 557.5)" fill="#1d2831" stroke="#1b252e" stroke-width="0.6"/>
<ellipse cx="457" cy="572" rx="2.6" ry="2.6" transform="rotate(0 457 572)" fill="#bed2e2" stroke="#1b252e" stroke-width="1"/>
<ellipse cx="457" cy="572" rx="1.5" ry="1.5" transform="rotate(0 457 572)" fill="#1d2831" stroke="#1b252e" stroke-width="0.6"/>
<line x1="478.6" y1="495.9" x2="466" y2="503" stroke="#1b252e" stroke-width="6.5" stroke-linecap="round"/>
<line x1="476" y1="497.3" x2="466" y2="503" stroke="#a4b9ca" stroke-width="3.9" stroke-dasharray="1.2 1.4"/>
<ellipse cx="481" cy="494.5" rx="3.6" ry="5.5" transform="rotate(150.5 481 494.5)" fill="#6a8295" stroke="#1b252e" stroke-width="1.7"/>
<ellipse cx="483.1" cy="493.3" rx="3" ry="4.6" transform="rotate(150.5 483.1 493.3)" fill="#9eb4c6" stroke="#1b252e" stroke-width="1.3"/>
<ellipse cx="483.5" cy="493.1" rx="1.3" ry="2.2" transform="rotate(150.5 483.5 493.1)" fill="#587083" stroke="#1b252e" stroke-width="0.9"/>
<line x1="480.4" y1="494.7" x2="495.5" y2="486.5" stroke="#1b252e" stroke-width="6.5" stroke-linecap="round"/>
<line x1="483.1" y1="493.3" x2="495.5" y2="486.5" stroke="#a4b9ca" stroke-width="3.9" stroke-dasharray="1.2 1.4"/>
<ellipse cx="478" cy="496" rx="3.6" ry="5.5" transform="rotate(-28.5 478 496)" fill="#6a8295" stroke="#1b252e" stroke-width="1.7"/>
<ellipse cx="475.9" cy="497.1" rx="3" ry="4.6" transform="rotate(-28.5 475.9 497.1)" fill="#9eb4c6" stroke="#1b252e" stroke-width="1.3"/>
<ellipse cx="475.5" cy="497.4" rx="1.3" ry="2.2" transform="rotate(-28.5 475.5 497.4)" fill="#587083" stroke="#1b252e" stroke-width="0.9"/>
<ellipse cx="479.5" cy="495.3" rx="3.2" ry="6.4" transform="rotate(-28 479.5 495.3)" fill="#8aa1b4" stroke="#1b252e" stroke-width="1.5"/>
<line x1="502.5" y1="537.6" x2="492" y2="543.5" stroke="#1b252e" stroke-width="3.6" stroke-linecap="round"/>
<line x1="499.9" y1="539.1" x2="492" y2="543.5" stroke="#a4b9ca" stroke-width="1" stroke-dasharray="1.2 1.4"/>
<ellipse cx="504.5" cy="536.5" rx="3" ry="4.6" transform="rotate(150.8 504.5 536.5)" fill="#6a8295" stroke="#1b252e" stroke-width="1.7"/>
<ellipse cx="506.6" cy="535.3" rx="2.5" ry="3.9" transform="rotate(150.8 506.6 535.3)" fill="#9eb4c6" stroke="#1b252e" stroke-width="1.3"/>
<ellipse cx="507" cy="535.1" rx="1.1" ry="1.8" transform="rotate(150.8 507 535.1)" fill="#587083" stroke="#1b252e" stroke-width="0.9"/>
<g fill="none" stroke-linejoin="round" stroke-linecap="butt">
<path d="M341 625.5L314.5 638.5" stroke="#1b252e" stroke-width="16"/>
<path d="M341 625.5L314.5 638.5" stroke="#84a2bb" stroke-width="12.6"/>
<path d="M341 625.5L314.5 638.5" stroke="#aec7da" stroke-width="7.6"/>
<path d="M341 625.5L314.5 638.5" stroke="#e3edf4" stroke-width="4.2"/>
</g>
<ellipse cx="314.8" cy="639" rx="5.4" ry="8.2" transform="rotate(-25 314.8 639)" fill="#dde6ed" stroke="#1b252e" stroke-width="1.5"/>
<ellipse cx="314.4" cy="639.2" rx="3.2" ry="5.6" transform="rotate(-25 314.4 639.2)" fill="#95acbf" stroke="#1b252e" stroke-width="1.1"/>
<ellipse cx="331" cy="630.5" rx="5.2" ry="9.6" transform="rotate(-25 331 630.5)" fill="none" stroke="#1b252e" stroke-width="1.3"/>
<path d="M323 601L345 592L350 605L352 625L350.4 643.5L344.4 646.6L340.3 643.5L333 639.5L330 631L340 625L336 616L324 617Z" fill="#7d97ab" stroke="#1b252e" stroke-width="1.6" stroke-linejoin="round" />
<path d="M343 593L359.5 586.1L364.5 590.1L370.6 598.2L376.6 606.3L382.7 610.3L380.6 617.3L374.6 629.4L360.5 637.5L350.4 643.5L352 625L349 606Z" fill="url(#gpump)" stroke="#1b252e" stroke-width="1.7" stroke-linejoin="round" />
<path d="M323.2 601.2L329.2 597.2L348.4 589.1L359.5 586.1L363 589L350 594L331 602.5L326 606Z" fill="#3f5466" stroke="#1b252e" stroke-width="1.3" stroke-linejoin="round" />
<path d="M331 599.5L350 591.5L357 589.5L356 592L350 594L333 601.5Z" fill="#a4bbcd" stroke="#1b252e" stroke-width="0.8" stroke-linejoin="round" />
<path d="M324 606L333 602L336 607L327 611Z" fill="#1d2831" stroke="#1b252e" stroke-width="1" stroke-linejoin="round" />
<path d="M369 607L381.5 609L382.7 612.5L371 628L366 630L368 618Z" fill="#aec5d7" stroke="#1b252e" stroke-width="1.2" stroke-linejoin="round" />
<line x1="352" y1="625" x2="372" y2="612" stroke="#1b252e" stroke-width="1.1" />
<path d="M343 606.5L361 606L361 622.5L343 622Z" fill="url(#gcylh)" stroke="#1b252e" stroke-width="1.4" stroke-linejoin="round" />
<ellipse cx="343.5" cy="614.3" rx="4" ry="8" transform="rotate(0 343.5 614.3)" fill="#88a2b6" stroke="#1b252e" stroke-width="1.2"/>
<ellipse cx="361.5" cy="614.3" rx="5.4" ry="8.2" transform="rotate(0 361.5 614.3)" fill="#bed2e2" stroke="#1b252e" stroke-width="1.6"/>
<ellipse cx="362" cy="614.3" rx="3.3" ry="5.6" transform="rotate(0 362 614.3)" fill="#ecf2f7" stroke="#1b252e" stroke-width="1.1"/>
<path d="M350 626L356 622.5L358 636L352 640Z" fill="#496173" stroke="#1b252e" stroke-width="1" stroke-linejoin="round" />
<line x1="344.4" y1="631" x2="344.4" y2="646" stroke="#1b252e" stroke-width="1.2" />
<ellipse cx="410" cy="616" rx="9.6" ry="11.6" transform="rotate(0 410 616)" fill="none" stroke="#1b252e" stroke-width="5"/>
<ellipse cx="409.4" cy="616" rx="9.4" ry="11.4" transform="rotate(0 409.4 616)" fill="none" stroke="#7a95ab" stroke-width="1.6"/>
<ellipse cx="411.2" cy="616" rx="7.2" ry="9.5" transform="rotate(0 411.2 616)" fill="none" stroke="#1b252e" stroke-width="1.3"/>
<path d="M405 602L411 605L420 604L423 609" fill="none" stroke="#1b252e" stroke-width="2.6" stroke-linejoin="miter"/>
<path d="M432 609L436 605L451 606L451 627L436 627.5L432 623Z" fill="url(#gcylh)" stroke="#1b252e" stroke-width="1.5" stroke-linejoin="round" />
<path d="M451 608.5L479 609L482 613L482 620L479 624.5L451 624.5Z" fill="url(#gcylh)" stroke="#1b252e" stroke-width="1.5" stroke-linejoin="round" />
<ellipse cx="478" cy="616.7" rx="3.6" ry="6.6" transform="rotate(0 478 616.7)" fill="#cad9e5" stroke="#1b252e" stroke-width="1.3"/>
<line x1="443" y1="605.5" x2="443" y2="627.5" stroke="#1b252e" stroke-width="1.1" />
<ellipse cx="502" cy="616.5" rx="8.4" ry="10.2" transform="rotate(0 502 616.5)" fill="none" stroke="#1b252e" stroke-width="4.8"/>
<ellipse cx="501.4" cy="616.5" rx="8.2" ry="10" transform="rotate(0 501.4 616.5)" fill="none" stroke="#7a95ab" stroke-width="1.4"/>
<ellipse cx="503.2" cy="616.5" rx="6.2" ry="8.3" transform="rotate(0 503.2 616.5)" fill="none" stroke="#1b252e" stroke-width="1.3"/>
<path d="M497 604L503 607L511 606L514 610" fill="none" stroke="#1b252e" stroke-width="2.6" stroke-linejoin="miter"/>
<ellipse cx="291" cy="655" rx="8.2" ry="13.4" transform="rotate(-30 291 655)" fill="#6a859b" stroke="#1b252e" stroke-width="2"/>
<line x1="291" y1="655" x2="285" y2="658.6" stroke="#6a859b" stroke-width="24.9"/>
<path d="M294.6 645.9l4.1 20.1" stroke="#1b252e" stroke-width="1.1" fill="none"/>
<path d="M292.8 647l4.1 20.1" stroke="#1b252e" stroke-width="1.1" fill="none"/>
<path d="M291 648.1l4.1 20.1" stroke="#1b252e" stroke-width="1.1" fill="none"/>
<ellipse cx="285" cy="658.6" rx="8.2" ry="13.4" transform="rotate(-30 285 658.6)" fill="#25313c" stroke="#1b252e" stroke-width="2.2"/>
<ellipse cx="285.8" cy="658.2" rx="5.4" ry="10.2" transform="rotate(-30 285.8 658.2)" fill="#dde7ee" stroke="#1b252e" stroke-width="1.2"/>
<path d="M280.5 651.2a5.7 10.7 -30 0 0 2.5 17.4" fill="none" stroke="#88a3b8" stroke-width="1.6"/>
<g transform="rotate(-32 246 680)">
<rect x="227" y="668" width="38" height="24" rx="3" fill="url(#gcylh)" stroke="#1b252e" stroke-width="1.5"/>
<ellipse cx="229" cy="680" rx="5.5" ry="11" fill="#dde6ed" stroke="#1b252e" stroke-width="1.4"/>
<ellipse cx="229.5" cy="680" rx="3.2" ry="7.5" fill="#f2f7fa" stroke="#1b252e" stroke-width="1"/>
</g>
<ellipse cx="207" cy="705.5" rx="8.2" ry="13.4" transform="rotate(-30 207 705.5)" fill="#6a859b" stroke="#1b252e" stroke-width="2"/>
<line x1="207" y1="705.5" x2="201" y2="709.1" stroke="#6a859b" stroke-width="24.9"/>
<path d="M210.6 696.4l4.1 20.1" stroke="#1b252e" stroke-width="1.1" fill="none"/>
<path d="M208.8 697.5l4.1 20.1" stroke="#1b252e" stroke-width="1.1" fill="none"/>
<path d="M207 698.6l4.1 20.1" stroke="#1b252e" stroke-width="1.1" fill="none"/>
<ellipse cx="201" cy="709.1" rx="8.2" ry="13.4" transform="rotate(-30 201 709.1)" fill="#25313c" stroke="#1b252e" stroke-width="2.2"/>
<ellipse cx="201.8" cy="708.7" rx="5.4" ry="10.2" transform="rotate(-30 201.8 708.7)" fill="#dde7ee" stroke="#1b252e" stroke-width="1.2"/>
<path d="M196.5 701.7a5.7 10.7 -30 0 0 2.5 17.4" fill="none" stroke="#88a3b8" stroke-width="1.6"/>
<g fill="none" stroke-linejoin="round" stroke-linecap="butt">
<path d="M171 725C167.8 726.5 155.8 731.3 152 734C148.2 736.7 147.8 738.5 148 741C148.2 743.5 151 746.3 153 749C155 751.7 158.8 755.7 160 757" stroke="#1b252e" stroke-width="16.5"/>
<path d="M171 725C167.8 726.5 155.8 731.3 152 734C148.2 736.7 147.8 738.5 148 741C148.2 743.5 151 746.3 153 749C155 751.7 158.8 755.7 160 757" stroke="#84a2bb" stroke-width="13.1"/>
<path d="M171 725C167.8 726.5 155.8 731.3 152 734C148.2 736.7 147.8 738.5 148 741C148.2 743.5 151 746.3 153 749C155 751.7 158.8 755.7 160 757" stroke="#aec7da" stroke-width="7.9"/>
<path d="M171 725C167.8 726.5 155.8 731.3 152 734C148.2 736.7 147.8 738.5 148 741C148.2 743.5 151 746.3 153 749C155 751.7 158.8 755.7 160 757" stroke="#e3edf4" stroke-width="4.3"/>
</g>
<ellipse cx="171.5" cy="724.7" rx="4.2" ry="8" transform="rotate(-28 171.5 724.7)" fill="#879eb2" stroke="#1b252e" stroke-width="1.5"/>
<ellipse cx="172.5" cy="724.2" rx="3" ry="6.6" transform="rotate(-28 172.5 724.2)" fill="#73535a" stroke="#1b252e" stroke-width="1"/>
<line x1="137" y1="762.5" x2="163" y2="751.5" stroke="#1b252e" stroke-width="6.5"/>
<line x1="138.2" y1="762" x2="161.8" y2="752" stroke="#879eb2" stroke-width="3.6"/>
<ellipse cx="161.5" cy="760.5" rx="8.8" ry="4.2" transform="rotate(-32 161.5 760.5)" fill="#3d5162" stroke="#1b252e" stroke-width="1.5"/>
<ellipse cx="163.5" cy="763" rx="7.2" ry="3.4" transform="rotate(-32 163.5 763)" fill="#95acbf" stroke="#1b252e" stroke-width="1.3"/>
<line x1="163.5" y1="780.5" x2="177" y2="773.3" stroke="#1b252e" stroke-width="3.2" stroke-linecap="round"/>
<line x1="164.5" y1="780" x2="176" y2="773.9" stroke="#95acbf" stroke-width="1"/>
<line x1="114.8" y1="713.2" x2="121.8" y2="725" stroke="#1b252e" stroke-width="4.2" stroke-linecap="round"/>
<line x1="116.4" y1="715.8" x2="121.8" y2="725" stroke="#a4b9ca" stroke-width="1.6" stroke-dasharray="1.2 1.4"/>
<ellipse cx="113.5" cy="711" rx="3.4" ry="5.2" transform="rotate(59.3 113.5 711)" fill="#6a8295" stroke="#1b252e" stroke-width="1.7"/>
<ellipse cx="112.3" cy="708.9" rx="2.9" ry="4.4" transform="rotate(59.3 112.3 708.9)" fill="#9eb4c6" stroke="#1b252e" stroke-width="1.3"/>
<ellipse cx="112" cy="708.5" rx="1.2" ry="2.1" transform="rotate(59.3 112 708.5)" fill="#587083" stroke="#1b252e" stroke-width="0.9"/>
<ellipse cx="615" cy="437.5" rx="14.5" ry="7.5" transform="rotate(-25 615 437.5)" fill="#465a6b" stroke="#1b252e" stroke-width="1.6"/>
<ellipse cx="614.5" cy="434.5" rx="14.5" ry="7.5" transform="rotate(-25 614.5 434.5)" fill="#8ea5b8" stroke="#1b252e" stroke-width="1.4"/>
<ellipse cx="606.5" cy="437" rx="3.6" ry="2.4" transform="rotate(-25 606.5 437)" fill="#dde6ed" stroke="#1b252e" stroke-width="1.2"/>
<ellipse cx="621" cy="444" rx="6.5" ry="3.4" transform="rotate(-15 621 444)" fill="#31404c" stroke="#1b252e" stroke-width="1.3"/>
<g fill="none" stroke-linejoin="round" stroke-linecap="round">
<path d="M609 323.5C609.5 325.2 610.2 331.2 612 334C613.8 336.8 616.3 339.1 620 340C623.7 340.9 629.8 338.7 634 339.5C638.2 340.3 641.2 342.2 645 345C648.8 347.8 653.2 352.7 657 356C660.8 359.3 664.5 363.5 668 365C671.5 366.5 675.7 364.2 678 365C680.3 365.8 682 368.2 682 370C682 371.8 680.3 374.7 678 376C675.7 377.3 671.2 377.5 668 378C664.8 378.5 660.5 378.8 659 379" stroke="#1b252e" stroke-width="11.5"/>
<path d="M609 323.5C609.5 325.2 610.2 331.2 612 334C613.8 336.8 616.3 339.1 620 340C623.7 340.9 629.8 338.7 634 339.5C638.2 340.3 641.2 342.2 645 345C648.8 347.8 653.2 352.7 657 356C660.8 359.3 664.5 363.5 668 365C671.5 366.5 675.7 364.2 678 365C680.3 365.8 682 368.2 682 370C682 371.8 680.3 374.7 678 376C675.7 377.3 671.2 377.5 668 378C664.8 378.5 660.5 378.8 659 379" stroke="#84a2bb" stroke-width="8.1"/>
<path d="M609 323.5C609.5 325.2 610.2 331.2 612 334C613.8 336.8 616.3 339.1 620 340C623.7 340.9 629.8 338.7 634 339.5C638.2 340.3 641.2 342.2 645 345C648.8 347.8 653.2 352.7 657 356C660.8 359.3 664.5 363.5 668 365C671.5 366.5 675.7 364.2 678 365C680.3 365.8 682 368.2 682 370C682 371.8 680.3 374.7 678 376C675.7 377.3 671.2 377.5 668 378C664.8 378.5 660.5 378.8 659 379" stroke="#aec7da" stroke-width="4.9"/>
<path d="M609 323.5C609.5 325.2 610.2 331.2 612 334C613.8 336.8 616.3 339.1 620 340C623.7 340.9 629.8 338.7 634 339.5C638.2 340.3 641.2 342.2 645 345C648.8 347.8 653.2 352.7 657 356C660.8 359.3 664.5 363.5 668 365C671.5 366.5 675.7 364.2 678 365C680.3 365.8 682 368.2 682 370C682 371.8 680.3 374.7 678 376C675.7 377.3 671.2 377.5 668 378C664.8 378.5 660.5 378.8 659 379" stroke="#e3edf4" stroke-width="2.7"/>
</g>
<g fill="none" stroke-linejoin="round" stroke-linecap="butt">
<path d="M661 378C658.8 379.3 652.5 383.2 648 386C643.5 388.8 638.5 391.7 634 395C629.5 398.3 624.2 402 621 406C617.8 410 616.2 414.7 615 419C613.8 423.3 614.2 429.8 614 432" stroke="#1b252e" stroke-width="11.5"/>
<path d="M661 378C658.8 379.3 652.5 383.2 648 386C643.5 388.8 638.5 391.7 634 395C629.5 398.3 624.2 402 621 406C617.8 410 616.2 414.7 615 419C613.8 423.3 614.2 429.8 614 432" stroke="#84a2bb" stroke-width="8.1"/>
<path d="M661 378C658.8 379.3 652.5 383.2 648 386C643.5 388.8 638.5 391.7 634 395C629.5 398.3 624.2 402 621 406C617.8 410 616.2 414.7 615 419C613.8 423.3 614.2 429.8 614 432" stroke="#aec7da" stroke-width="4.9"/>
<path d="M661 378C658.8 379.3 652.5 383.2 648 386C643.5 388.8 638.5 391.7 634 395C629.5 398.3 624.2 402 621 406C617.8 410 616.2 414.7 615 419C613.8 423.3 614.2 429.8 614 432" stroke="#e3edf4" stroke-width="2.7"/>
</g>
<g transform="rotate(-28 662 378)"><rect x="655" y="370.5" width="12" height="15" rx="1.5" fill="url(#gcyl)" stroke="#1b252e" stroke-width="1.4"/></g>
<ellipse cx="609" cy="323" rx="5.8" ry="4.6" transform="rotate(-20 609 323)" fill="#95acbf" stroke="#1b252e" stroke-width="1.5"/>
<line x1="605.5" y1="330.5" x2="615.5" y2="327" stroke="#1b252e" stroke-width="1.2" />
<ellipse cx="619.5" cy="468" rx="8.6" ry="4.8" transform="rotate(0 619.5 468)" fill="none" stroke="#1b252e" stroke-width="3.4"/>
<ellipse cx="619.5" cy="468" rx="8.6" ry="4.8" transform="rotate(0 619.5 468)" fill="none" stroke="#8ea5b8" stroke-width="1"/>
<line x1="672" y1="320.3" x2="672.8" y2="330.5" stroke="#1b252e" stroke-width="12" stroke-linecap="round"/>
<line x1="672" y1="320.3" x2="672.8" y2="330.5" stroke="#7794ab" stroke-width="8.8" stroke-linecap="round"/>
<ellipse cx="674" cy="314.5" rx="11.7" ry="10.6" transform="rotate(-8 674 314.5)" fill="#7d9ab1" stroke="#1b252e" stroke-width="1.8"/>
<path d="M668.8 305.5C662.9 311.3 664.1 319.8 669.9 324" fill="none" stroke="#1b252e" stroke-width="1.2"/>
<path d="M672.8 304.4C667 311.3 668.2 319.8 674 324.6" fill="none" stroke="#1b252e" stroke-width="1.2"/>
<path d="M670.5 306C665.3 311.3 666.1 318.7 671.7 323.5" fill="none" stroke="#b4cbdd" stroke-width="1.6"/>
<ellipse cx="678.7" cy="315.3" rx="4.4" ry="5.9" transform="rotate(0 678.7 315.3)" fill="#e6eef4" stroke="#1b252e" stroke-width="1.5"/>
<path d="M674.7 314A4.2 5.3 0 0 1 682.6 314" fill="none" stroke="#58738a" stroke-width="1.6"/>
<ellipse cx="672.8" cy="330.5" rx="2.3" ry="2" transform="rotate(0 672.8 330.5)" fill="#25313c" stroke="#1b252e" stroke-width="1"/>
<line x1="719.5" y1="302.3" x2="707.5" y2="309.5" stroke="#1b252e" stroke-width="7" stroke-linecap="round"/>
<line x1="716.9" y1="303.8" x2="707.5" y2="309.5" stroke="#a4b9ca" stroke-width="4.4" stroke-dasharray="1.2 1.4"/>
<ellipse cx="722.5" cy="300.5" rx="4.6" ry="7" transform="rotate(149 722.5 300.5)" fill="#6a8295" stroke="#1b252e" stroke-width="1.7"/>
<ellipse cx="724.6" cy="299.3" rx="3.9" ry="5.9" transform="rotate(149 724.6 299.3)" fill="#9eb4c6" stroke="#1b252e" stroke-width="1.3"/>
<ellipse cx="725" cy="299" rx="1.7" ry="2.8" transform="rotate(149 725 299)" fill="#587083" stroke="#1b252e" stroke-width="0.9"/>
<line x1="607.4" y1="374" x2="607.4" y2="387.5" stroke="#1b252e" stroke-width="6.4" stroke-linecap="round"/>
<line x1="607.4" y1="377" x2="607.4" y2="387.5" stroke="#a4b9ca" stroke-width="3.8" stroke-dasharray="1.2 1.4"/>
<ellipse cx="607.4" cy="370.5" rx="4.6" ry="7" transform="rotate(90 607.4 370.5)" fill="#6a8295" stroke="#1b252e" stroke-width="1.7"/>
<ellipse cx="607.4" cy="368.1" rx="3.9" ry="5.9" transform="rotate(90 607.4 368.1)" fill="#9eb4c6" stroke="#1b252e" stroke-width="1.3"/>
<ellipse cx="607.4" cy="367.6" rx="1.7" ry="2.8" transform="rotate(90 607.4 367.6)" fill="#587083" stroke="#1b252e" stroke-width="0.9"/>
<g fill="none" stroke-linejoin="round" stroke-linecap="round">
<path d="M579 498C580.2 498.8 582.5 501.5 586 503C589.5 504.5 594.2 505.5 600 507C605.8 508.5 612.5 509.9 621 512C629.5 514.1 643.2 517.5 651 519.5C658.8 521.5 663.2 522.2 668 524C672.8 525.8 676.3 527.3 680 530C683.7 532.7 686.5 535.7 690 540C693.5 544.3 698.2 550.5 701 556C703.8 561.5 706.3 567.8 707 573C707.7 578.2 706.5 583.3 705 587C703.5 590.7 700.5 593 698 595C695.5 597 691.3 598.3 690 599" stroke="#1b252e" stroke-width="12.5"/>
<path d="M579 498C580.2 498.8 582.5 501.5 586 503C589.5 504.5 594.2 505.5 600 507C605.8 508.5 612.5 509.9 621 512C629.5 514.1 643.2 517.5 651 519.5C658.8 521.5 663.2 522.2 668 524C672.8 525.8 676.3 527.3 680 530C683.7 532.7 686.5 535.7 690 540C693.5 544.3 698.2 550.5 701 556C703.8 561.5 706.3 567.8 707 573C707.7 578.2 706.5 583.3 705 587C703.5 590.7 700.5 593 698 595C695.5 597 691.3 598.3 690 599" stroke="#84a2bb" stroke-width="9.1"/>
<path d="M579 498C580.2 498.8 582.5 501.5 586 503C589.5 504.5 594.2 505.5 600 507C605.8 508.5 612.5 509.9 621 512C629.5 514.1 643.2 517.5 651 519.5C658.8 521.5 663.2 522.2 668 524C672.8 525.8 676.3 527.3 680 530C683.7 532.7 686.5 535.7 690 540C693.5 544.3 698.2 550.5 701 556C703.8 561.5 706.3 567.8 707 573C707.7 578.2 706.5 583.3 705 587C703.5 590.7 700.5 593 698 595C695.5 597 691.3 598.3 690 599" stroke="#aec7da" stroke-width="5.5"/>
<path d="M579 498C580.2 498.8 582.5 501.5 586 503C589.5 504.5 594.2 505.5 600 507C605.8 508.5 612.5 509.9 621 512C629.5 514.1 643.2 517.5 651 519.5C658.8 521.5 663.2 522.2 668 524C672.8 525.8 676.3 527.3 680 530C683.7 532.7 686.5 535.7 690 540C693.5 544.3 698.2 550.5 701 556C703.8 561.5 706.3 567.8 707 573C707.7 578.2 706.5 583.3 705 587C703.5 590.7 700.5 593 698 595C695.5 597 691.3 598.3 690 599" stroke="#e3edf4" stroke-width="3"/>
</g>
<ellipse cx="579" cy="498" rx="6" ry="5" transform="rotate(-30 579 498)" fill="#95acbf" stroke="#1b252e" stroke-width="1.5"/>
<line x1="583" y1="506.5" x2="590" y2="497" stroke="#1b252e" stroke-width="1.2" />
<path d="M677 595C679 592.3 684.5 590.2 688 590C691.5 589.8 695.7 591.8 698 594C700.3 596.2 702.3 600.2 702 603C701.7 605.8 699 609.3 696 611C693 612.7 687.3 613.8 684 613C680.7 612.2 677.2 609 676 606C674.8 603 675 597.7 677 595Z" fill="#7d97ab" stroke="#1b252e" stroke-width="1.6" stroke-linejoin="round" />
<ellipse cx="685" cy="602.5" rx="6.6" ry="7.6" transform="rotate(-25 685 602.5)" fill="#5a7386" stroke="#1b252e" stroke-width="1.4"/>
<ellipse cx="684" cy="603" rx="3.6" ry="4.6" transform="rotate(-25 684 603)" fill="#1d2831" stroke="#1b252e" stroke-width="1.1"/>
<line x1="693" y1="592" x2="697" y2="610" stroke="#1b252e" stroke-width="1.2" />
<ellipse cx="664.5" cy="614" rx="6.6" ry="8.6" transform="rotate(-35 664.5 614)" fill="none" stroke="#1b252e" stroke-width="3.6"/>
<ellipse cx="664.5" cy="614" rx="6.6" ry="8.6" transform="rotate(-35 664.5 614)" fill="none" stroke="#8ea5b8" stroke-width="1.2"/>
<line x1="565.2" y1="535.2" x2="564.8" y2="545.8" stroke="#1b252e" stroke-width="12" stroke-linecap="round"/>
<line x1="565.2" y1="535.2" x2="564.8" y2="545.8" stroke="#7794ab" stroke-width="8.8" stroke-linecap="round"/>
<ellipse cx="567.2" cy="529" rx="12.3" ry="11.2" transform="rotate(-8 567.2 529)" fill="#7d9ab1" stroke="#1b252e" stroke-width="1.8"/>
<path d="M561.7 519.5C555.5 525.6 556.7 534.6 562.9 539.1" fill="none" stroke="#1b252e" stroke-width="1.2"/>
<path d="M566 518.4C559.8 525.6 561 534.6 567.2 539.6" fill="none" stroke="#1b252e" stroke-width="1.2"/>
<path d="M563.5 520C558 525.6 558.8 533.5 564.7 538.5" fill="none" stroke="#b4cbdd" stroke-width="1.6"/>
<ellipse cx="572.1" cy="529.8" rx="4.7" ry="6.3" transform="rotate(0 572.1 529.8)" fill="#e6eef4" stroke="#1b252e" stroke-width="1.5"/>
<path d="M567.9 528.5A4.4 5.6 0 0 1 576.3 528.5" fill="none" stroke="#58738a" stroke-width="1.6"/>
<ellipse cx="564.8" cy="545.8" rx="2.3" ry="2" transform="rotate(0 564.8 545.8)" fill="#25313c" stroke="#1b252e" stroke-width="1"/>
<ellipse cx="594.5" cy="527.7" rx="7.2" ry="7.4" transform="rotate(0 594.5 527.7)" fill="#58738a" stroke="#1b252e" stroke-width="1.7"/>
<ellipse cx="596.5" cy="526" rx="3.2" ry="3.6" transform="rotate(0 596.5 526)" fill="#a4bdd2" stroke="#1b252e" stroke-width="1"/>
<ellipse cx="592" cy="528.5" rx="2.4" ry="3" transform="rotate(0 592 528.5)" fill="#1d2831" stroke="#1b252e" stroke-width="0.9"/>
<line x1="614.7" y1="592.4" x2="615.5" y2="601.4" stroke="#1b252e" stroke-width="12" stroke-linecap="round"/>
<line x1="614.7" y1="592.4" x2="615.5" y2="601.4" stroke="#7794ab" stroke-width="8.8" stroke-linecap="round"/>
<ellipse cx="616.7" cy="586.5" rx="11.9" ry="10.8" transform="rotate(-8 616.7 586.5)" fill="#7d9ab1" stroke="#1b252e" stroke-width="1.8"/>
<path d="M611.4 577.3C605.4 583.3 606.6 591.9 612.5 596.2" fill="none" stroke="#1b252e" stroke-width="1.2"/>
<path d="M615.5 576.2C609.6 583.3 610.8 591.9 616.7 596.8" fill="none" stroke="#1b252e" stroke-width="1.2"/>
<path d="M613.1 577.9C607.8 583.3 608.6 590.8 614.3 595.7" fill="none" stroke="#b4cbdd" stroke-width="1.6"/>
<ellipse cx="621.5" cy="587.3" rx="4.5" ry="6" transform="rotate(0 621.5 587.3)" fill="#e6eef4" stroke="#1b252e" stroke-width="1.5"/>
<path d="M617.4 586A4.3 5.4 0 0 1 625.5 586" fill="none" stroke="#58738a" stroke-width="1.6"/>
<ellipse cx="615.5" cy="601.4" rx="2.3" ry="2" transform="rotate(0 615.5 601.4)" fill="#25313c" stroke="#1b252e" stroke-width="1"/>
<line x1="661.9" y1="572.6" x2="650" y2="578.5" stroke="#1b252e" stroke-width="7" stroke-linecap="round"/>
<line x1="659.2" y1="573.9" x2="650" y2="578.5" stroke="#a4b9ca" stroke-width="4.4" stroke-dasharray="1.2 1.4"/>
<ellipse cx="665" cy="571" rx="4.6" ry="7" transform="rotate(153.4 665 571)" fill="#6a8295" stroke="#1b252e" stroke-width="1.7"/>
<ellipse cx="667.1" cy="569.9" rx="3.9" ry="5.9" transform="rotate(153.4 667.1 569.9)" fill="#9eb4c6" stroke="#1b252e" stroke-width="1.3"/>
<ellipse cx="667.6" cy="569.7" rx="1.7" ry="2.8" transform="rotate(153.4 667.6 569.7)" fill="#587083" stroke="#1b252e" stroke-width="0.9"/>
<path d="M743 541C745 533 752 533 758 538C766 544 774 548 773 556" fill="none" stroke="#1b252e" stroke-width="7.2" stroke-linecap="round"/>
<path d="M743 541C745 533 752 533 758 538C766 544 774 548 773 556" fill="none" stroke="#7d94a7" stroke-width="4.2" stroke-linecap="round"/>
<path d="M756 541L757.5 558" fill="none" stroke="#1b252e" stroke-width="8" stroke-linecap="round"/>
<path d="M756 541L757.5 558" fill="none" stroke="#7d94a7" stroke-width="5" stroke-linecap="round"/>
<ellipse cx="757.5" cy="557" rx="1.7" ry="1.7" transform="rotate(0 757.5 557)" fill="#e6eef3" stroke="#1b252e" stroke-width="1"/>
<line x1="801.3" y1="528.9" x2="788" y2="535" stroke="#1b252e" stroke-width="7" stroke-linecap="round"/>
<line x1="798.6" y1="530.2" x2="788" y2="535" stroke="#a4b9ca" stroke-width="4.4" stroke-dasharray="1.2 1.4"/>
<ellipse cx="804.5" cy="527.5" rx="4.6" ry="7" transform="rotate(155.6 804.5 527.5)" fill="#6a8295" stroke="#1b252e" stroke-width="1.7"/>
<ellipse cx="806.7" cy="526.5" rx="3.9" ry="5.9" transform="rotate(155.6 806.7 526.5)" fill="#9eb4c6" stroke="#1b252e" stroke-width="1.3"/>
<ellipse cx="807.1" cy="526.3" rx="1.7" ry="2.8" transform="rotate(155.6 807.1 526.3)" fill="#587083" stroke="#1b252e" stroke-width="0.9"/>
<path d="M571 624C575 617 580 612 584 607C586 604 586 601 584 598" fill="none" stroke="#1b252e" stroke-width="8.6" stroke-linecap="round"/>
<path d="M571 624C575 617 580 612 584 607C586 604 586 601 584 598" fill="none" stroke="#7d9ab1" stroke-width="5.6" stroke-linecap="round"/>
<ellipse cx="583" cy="601.5" rx="4.4" ry="6.2" transform="rotate(15 583 601.5)" fill="#7d9ab1" stroke="#1b252e" stroke-width="1.6"/>
<ellipse cx="583.2" cy="601.5" rx="2" ry="3.4" transform="rotate(15 583.2 601.5)" fill="#dde8f0" stroke="#1b252e" stroke-width="1.1"/>
<ellipse cx="575" cy="604" rx="3.6" ry="3.6" transform="rotate(0 575 604)" fill="#25313c" stroke="#1b252e" stroke-width="1.2"/>
<ellipse cx="573.6" cy="604" rx="2" ry="2.6" transform="rotate(0 573.6 604)" fill="#6a859b" stroke="#1b252e" stroke-width="0.9"/>
<g fill="none" stroke-linejoin="round" stroke-linecap="butt">
<path d="M526 618.3C530 618.4 542.2 618.8 550 619C557.8 619.2 569.2 619.7 573 619.8" stroke="#1b252e" stroke-width="12.8"/>
<path d="M526 618.3C530 618.4 542.2 618.8 550 619C557.8 619.2 569.2 619.7 573 619.8" stroke="#84a2bb" stroke-width="9.4"/>
<path d="M526 618.3C530 618.4 542.2 618.8 550 619C557.8 619.2 569.2 619.7 573 619.8" stroke="#aec7da" stroke-width="5.6"/>
<path d="M526 618.3C530 618.4 542.2 618.8 550 619C557.8 619.2 569.2 619.7 573 619.8" stroke="#e3edf4" stroke-width="3.1"/>
</g>
<g fill="none" stroke-linejoin="round" stroke-linecap="butt">
<path d="M570 619.6C571.8 619.7 577.8 619.5 581 620C584.2 620.5 587.2 621.2 589.5 622.8C591.8 624.4 594.1 627 594.8 629.5C595.5 632 594.7 635.3 593.5 637.5C592.3 639.7 588.5 641.7 587.5 642.5" stroke="#1b252e" stroke-width="12.8"/>
<path d="M570 619.6C571.8 619.7 577.8 619.5 581 620C584.2 620.5 587.2 621.2 589.5 622.8C591.8 624.4 594.1 627 594.8 629.5C595.5 632 594.7 635.3 593.5 637.5C592.3 639.7 588.5 641.7 587.5 642.5" stroke="#84a2bb" stroke-width="9.4"/>
<path d="M570 619.6C571.8 619.7 577.8 619.5 581 620C584.2 620.5 587.2 621.2 589.5 622.8C591.8 624.4 594.1 627 594.8 629.5C595.5 632 594.7 635.3 593.5 637.5C592.3 639.7 588.5 641.7 587.5 642.5" stroke="#aec7da" stroke-width="5.6"/>
<path d="M570 619.6C571.8 619.7 577.8 619.5 581 620C584.2 620.5 587.2 621.2 589.5 622.8C591.8 624.4 594.1 627 594.8 629.5C595.5 632 594.7 635.3 593.5 637.5C592.3 639.7 588.5 641.7 587.5 642.5" stroke="#e3edf4" stroke-width="3.1"/>
</g>
<ellipse cx="526" cy="618.3" rx="3.4" ry="6" transform="rotate(0 526 618.3)" fill="#879eb2" stroke="#1b252e" stroke-width="1.4"/>
<line x1="537.5" y1="612" x2="537.5" y2="625" stroke="#1b252e" stroke-width="1.2" />
<line x1="540.5" y1="612" x2="540.5" y2="625" stroke="#1b252e" stroke-width="1" />
<path d="M569 640C570.4 637.4 574.8 634.9 578 634.5C581.2 634.1 585.8 635.6 588 637.5C590.2 639.4 591.7 643.2 591.5 646C591.3 648.8 589.4 652.2 587 654C584.6 655.8 579.9 657.2 577 656.5C574.1 655.8 570.8 652.8 569.5 650C568.2 647.2 567.6 642.6 569 640Z" fill="#85a1b7" stroke="#1b252e" stroke-width="1.7" stroke-linejoin="round" />
<line x1="586" y1="637" x2="590" y2="654" stroke="#1b252e" stroke-width="1.3" />
<line x1="583" y1="635.5" x2="587" y2="656" stroke="#1b252e" stroke-width="1" />
<ellipse cx="576.5" cy="646.5" rx="5.6" ry="7" transform="rotate(-25 576.5 646.5)" fill="#5a758b" stroke="#1b252e" stroke-width="1.4"/>
<ellipse cx="575.8" cy="647" rx="3" ry="4.2" transform="rotate(-25 575.8 647)" fill="#1d2831" stroke="#1b252e" stroke-width="1"/>
<ellipse cx="553.8" cy="660.6" rx="6.2" ry="8.2" transform="rotate(-30 553.8 660.6)" fill="none" stroke="#1b252e" stroke-width="3.4"/>
<ellipse cx="553.8" cy="660.6" rx="6.2" ry="8.2" transform="rotate(-30 553.8 660.6)" fill="none" stroke="#8e6a70" stroke-width="1"/>
<g fill="none" stroke-linejoin="round" stroke-linecap="butt">
<path d="M744 750C741.7 751.3 734.7 755.2 730 758C725.3 760.8 718.3 765.5 716 767" stroke="#1b252e" stroke-width="15"/>
<path d="M744 750C741.7 751.3 734.7 755.2 730 758C725.3 760.8 718.3 765.5 716 767" stroke="#84a2bb" stroke-width="11.6"/>
<path d="M744 750C741.7 751.3 734.7 755.2 730 758C725.3 760.8 718.3 765.5 716 767" stroke="#aec7da" stroke-width="7"/>
<path d="M744 750C741.7 751.3 734.7 755.2 730 758C725.3 760.8 718.3 765.5 716 767" stroke="#e3edf4" stroke-width="3.8"/>
</g>
<path d="M701 760C702.7 756 707.5 753.2 711 753C714.5 752.8 719.8 755.8 722 759C724.2 762.2 725.2 768 724.5 772C723.8 776 720.9 780.8 718 783C715.1 785.2 709.8 786 707 785C704.2 784 702 781.2 701 777C700 772.8 699.3 764 701 760Z" fill="#496173" stroke="#1b252e" stroke-width="1.7" stroke-linejoin="round" />
<ellipse cx="712" cy="769.5" rx="7.2" ry="8.6" transform="rotate(-25 712 769.5)" fill="#1d2831" stroke="#1b252e" stroke-width="1.4"/>
<ellipse cx="711.2" cy="770" rx="4.2" ry="5.4" transform="rotate(-25 711.2 770)" fill="#a9c0d2" stroke="#1b252e" stroke-width="1.1"/>
<g fill="none" stroke-linejoin="round" stroke-linecap="butt">
<path d="M846 909C847.5 911.5 853.2 918.7 855 924C856.8 929.3 856.7 938.2 857 941" stroke="#1b252e" stroke-width="15"/>
<path d="M846 909C847.5 911.5 853.2 918.7 855 924C856.8 929.3 856.7 938.2 857 941" stroke="#84a2bb" stroke-width="11.6"/>
<path d="M846 909C847.5 911.5 853.2 918.7 855 924C856.8 929.3 856.7 938.2 857 941" stroke="#aec7da" stroke-width="7"/>
<path d="M846 909C847.5 911.5 853.2 918.7 855 924C856.8 929.3 856.7 938.2 857 941" stroke="#e3edf4" stroke-width="3.8"/>
</g>
<ellipse cx="857" cy="941.5" rx="7.2" ry="3.2" transform="rotate(-5 857 941.5)" fill="#7a92a5" stroke="#1b252e" stroke-width="1.3"/>
<line x1="849.5" y1="932" x2="864" y2="930.5" stroke="#1b252e" stroke-width="1.2" />
<g fill="none" stroke-linejoin="round" stroke-linecap="butt">
<path d="M580.8 786C584.2 783.1 594.3 775.1 601 768.4C607.7 761.7 614.3 751.9 621 746C627.7 740.1 633.3 735.9 641.3 733C649.3 730.1 659.8 728.7 669 728.5C678.2 728.3 687.4 729.4 696.7 731.8C706 734.2 716.1 738.6 725 743C733.9 747.4 741.6 753 750 758C758.4 763 767.6 767.7 775.6 773.2C783.6 778.7 792 784.9 798.3 790.8C804.6 796.7 809.6 801.7 813.4 808.4C817.2 815.1 818.9 823.9 821 831C823.1 838.1 822.7 844.6 826 851.3C829.3 858 836.8 865.1 841 871.4C845.2 877.7 849.7 883.6 851 889C852.3 894.4 851.2 899.3 849 904C846.8 908.7 841.5 913.2 838 917C834.5 920.8 829.7 925.3 828 927" stroke="#1b252e" stroke-width="15"/>
<path d="M580.8 786C584.2 783.1 594.3 775.1 601 768.4C607.7 761.7 614.3 751.9 621 746C627.7 740.1 633.3 735.9 641.3 733C649.3 730.1 659.8 728.7 669 728.5C678.2 728.3 687.4 729.4 696.7 731.8C706 734.2 716.1 738.6 725 743C733.9 747.4 741.6 753 750 758C758.4 763 767.6 767.7 775.6 773.2C783.6 778.7 792 784.9 798.3 790.8C804.6 796.7 809.6 801.7 813.4 808.4C817.2 815.1 818.9 823.9 821 831C823.1 838.1 822.7 844.6 826 851.3C829.3 858 836.8 865.1 841 871.4C845.2 877.7 849.7 883.6 851 889C852.3 894.4 851.2 899.3 849 904C846.8 908.7 841.5 913.2 838 917C834.5 920.8 829.7 925.3 828 927" stroke="#84a2bb" stroke-width="11.6"/>
<path d="M580.8 786C584.2 783.1 594.3 775.1 601 768.4C607.7 761.7 614.3 751.9 621 746C627.7 740.1 633.3 735.9 641.3 733C649.3 730.1 659.8 728.7 669 728.5C678.2 728.3 687.4 729.4 696.7 731.8C706 734.2 716.1 738.6 725 743C733.9 747.4 741.6 753 750 758C758.4 763 767.6 767.7 775.6 773.2C783.6 778.7 792 784.9 798.3 790.8C804.6 796.7 809.6 801.7 813.4 808.4C817.2 815.1 818.9 823.9 821 831C823.1 838.1 822.7 844.6 826 851.3C829.3 858 836.8 865.1 841 871.4C845.2 877.7 849.7 883.6 851 889C852.3 894.4 851.2 899.3 849 904C846.8 908.7 841.5 913.2 838 917C834.5 920.8 829.7 925.3 828 927" stroke="#aec7da" stroke-width="7"/>
<path d="M580.8 786C584.2 783.1 594.3 775.1 601 768.4C607.7 761.7 614.3 751.9 621 746C627.7 740.1 633.3 735.9 641.3 733C649.3 730.1 659.8 728.7 669 728.5C678.2 728.3 687.4 729.4 696.7 731.8C706 734.2 716.1 738.6 725 743C733.9 747.4 741.6 753 750 758C758.4 763 767.6 767.7 775.6 773.2C783.6 778.7 792 784.9 798.3 790.8C804.6 796.7 809.6 801.7 813.4 808.4C817.2 815.1 818.9 823.9 821 831C823.1 838.1 822.7 844.6 826 851.3C829.3 858 836.8 865.1 841 871.4C845.2 877.7 849.7 883.6 851 889C852.3 894.4 851.2 899.3 849 904C846.8 908.7 841.5 913.2 838 917C834.5 920.8 829.7 925.3 828 927" stroke="#e3edf4" stroke-width="3.8"/>
</g>
<g transform="rotate(30 742 750)"><rect x="736.5" y="740.5" width="11" height="19" rx="2" fill="url(#gcylh)" stroke="#1b252e" stroke-width="1.4"/></g>
<path d="M568 783C569.8 780.3 575.5 777.3 579 777C582.5 776.7 586.8 778.8 589 781C591.2 783.2 592.3 787.2 592 790C591.7 792.8 589.7 796.3 587 798C584.3 799.7 579.2 800.8 576 800C572.8 799.2 569.3 795.8 568 793C566.7 790.2 566.2 785.7 568 783Z" fill="#7d97ab" stroke="#1b252e" stroke-width="1.6" stroke-linejoin="round" />
<ellipse cx="577" cy="789" rx="6.6" ry="7.8" transform="rotate(-25 577 789)" fill="#5a7386" stroke="#1b252e" stroke-width="1.4"/>
<ellipse cx="576" cy="789.5" rx="3.8" ry="5" transform="rotate(-25 576 789.5)" fill="#bed1e0" stroke="#1b252e" stroke-width="1.1"/>
<line x1="586" y1="778" x2="590" y2="797" stroke="#1b252e" stroke-width="1.2" />
<path d="M811 922C812.9 918.4 818.1 915.1 822 914.5C825.9 913.9 831.8 916.1 834.5 918.5C837.2 920.9 838.9 925.2 838.5 929C838.1 932.8 835.1 938.3 832 941C828.9 943.7 823.6 945.8 820 945C816.4 944.2 812 939.8 810.5 936C809 932.2 809.1 925.6 811 922Z" fill="#496173" stroke="#1b252e" stroke-width="1.7" stroke-linejoin="round" />
<ellipse cx="823.5" cy="929.5" rx="7.4" ry="8.8" transform="rotate(-25 823.5 929.5)" fill="#1d2831" stroke="#1b252e" stroke-width="1.4"/>
<ellipse cx="822.8" cy="930" rx="4.4" ry="5.6" transform="rotate(-25 822.8 930)" fill="#a9c0d2" stroke="#1b252e" stroke-width="1.1"/>
<ellipse cx="551.8" cy="803.6" rx="7" ry="9" transform="rotate(-35 551.8 803.6)" fill="none" stroke="#1b252e" stroke-width="3.6"/>
<ellipse cx="551.8" cy="803.6" rx="7" ry="9" transform="rotate(-35 551.8 803.6)" fill="none" stroke="#8ea5b8" stroke-width="1.2"/>
<ellipse cx="685.5" cy="787.3" rx="7.6" ry="10.2" transform="rotate(-30 685.5 787.3)" fill="none" stroke="#1b252e" stroke-width="3.6"/>
<ellipse cx="685.5" cy="787.3" rx="7.6" ry="10.2" transform="rotate(-30 685.5 787.3)" fill="none" stroke="#8ea5b8" stroke-width="1.2"/>
<ellipse cx="795.6" cy="950.6" rx="7.2" ry="10" transform="rotate(-30 795.6 950.6)" fill="none" stroke="#1b252e" stroke-width="3.6"/>
<ellipse cx="795.6" cy="950.6" rx="7.2" ry="10" transform="rotate(-30 795.6 950.6)" fill="none" stroke="#8ea5b8" stroke-width="1.2"/>
<ellipse cx="752.4" cy="717.7" rx="8.2" ry="9.4" transform="rotate(10 752.4 717.7)" fill="#e2ebf2" stroke="#1b252e" stroke-width="1.2"/>
<ellipse cx="752.4" cy="717.7" rx="8.2" ry="9.4" transform="rotate(10 752.4 717.7)" fill="none" stroke="#1b252e" stroke-width="5.2"/>
<path d="M758 710.5A8 9.3 10 0 1 755 726.5" fill="none" stroke="#7d9ab1" stroke-width="2"/>
<line x1="738.3" y1="700.5" x2="741.5" y2="724" stroke="#1b252e" stroke-width="8.6" stroke-linecap="round"/>
<line x1="738.3" y1="702" x2="741" y2="722" stroke="#6a859b" stroke-width="2.4" stroke-dasharray="2.2 2.4"/>
<line x1="806.1" y1="687.6" x2="786" y2="692.5" stroke="#1b252e" stroke-width="7" stroke-linecap="round"/>
<line x1="803.2" y1="688.3" x2="786" y2="692.5" stroke="#a4b9ca" stroke-width="4.4" stroke-dasharray="1.2 1.4"/>
<ellipse cx="809.5" cy="686.8" rx="4.6" ry="7" transform="rotate(166.4 809.5 686.8)" fill="#6a8295" stroke="#1b252e" stroke-width="1.7"/>
<ellipse cx="811.8" cy="686.2" rx="3.9" ry="5.9" transform="rotate(166.4 811.8 686.2)" fill="#9eb4c6" stroke="#1b252e" stroke-width="1.3"/>
<ellipse cx="812.3" cy="686.1" rx="1.7" ry="2.8" transform="rotate(166.4 812.3 686.1)" fill="#587083" stroke="#1b252e" stroke-width="0.9"/>
<line x1="805.7" y1="710.1" x2="789.5" y2="720" stroke="#1b252e" stroke-width="7" stroke-linecap="round"/>
<line x1="803.1" y1="711.7" x2="789.5" y2="720" stroke="#a4b9ca" stroke-width="4.4" stroke-dasharray="1.2 1.4"/>
<ellipse cx="808.7" cy="708.3" rx="4.6" ry="7" transform="rotate(148.6 808.7 708.3)" fill="#6a8295" stroke="#1b252e" stroke-width="1.7"/>
<ellipse cx="810.7" cy="707.1" rx="3.9" ry="5.9" transform="rotate(148.6 810.7 707.1)" fill="#9eb4c6" stroke="#1b252e" stroke-width="1.3"/>
<ellipse cx="811.2" cy="706.8" rx="1.7" ry="2.8" transform="rotate(148.6 811.2 706.8)" fill="#587083" stroke="#1b252e" stroke-width="0.9"/>
<line x1="596" y1="737.4" x2="582.5" y2="745.5" stroke="#1b252e" stroke-width="7" stroke-linecap="round"/>
<line x1="593.4" y1="738.9" x2="582.5" y2="745.5" stroke="#a4b9ca" stroke-width="4.4" stroke-dasharray="1.2 1.4"/>
<ellipse cx="599" cy="735.6" rx="4.6" ry="7" transform="rotate(149 599 735.6)" fill="#6a8295" stroke="#1b252e" stroke-width="1.7"/>
<ellipse cx="601.1" cy="734.4" rx="3.9" ry="5.9" transform="rotate(149 601.1 734.4)" fill="#9eb4c6" stroke="#1b252e" stroke-width="1.3"/>
<ellipse cx="601.5" cy="734.1" rx="1.7" ry="2.8" transform="rotate(149 601.5 734.1)" fill="#587083" stroke="#1b252e" stroke-width="0.9"/>
<line x1="905" y1="882" x2="890.8" y2="890.2" stroke="#1b252e" stroke-width="7" stroke-linecap="round"/>
<line x1="902.4" y1="883.5" x2="890.8" y2="890.2" stroke="#a4b9ca" stroke-width="4.4" stroke-dasharray="1.2 1.4"/>
<ellipse cx="908" cy="880.3" rx="4.6" ry="7" transform="rotate(150.1 908 880.3)" fill="#6a8295" stroke="#1b252e" stroke-width="1.7"/>
<ellipse cx="910.1" cy="879.1" rx="3.9" ry="5.9" transform="rotate(150.1 910.1 879.1)" fill="#9eb4c6" stroke="#1b252e" stroke-width="1.3"/>
<ellipse cx="910.5" cy="878.9" rx="1.7" ry="2.8" transform="rotate(150.1 910.5 878.9)" fill="#587083" stroke="#1b252e" stroke-width="0.9"/>
<ellipse cx="581.4" cy="979.5" rx="7.6" ry="8.2" transform="rotate(0 581.4 979.5)" fill="#879eb2" stroke="#1b252e" stroke-width="1.8"/>
<ellipse cx="581.4" cy="979.5" rx="2.6" ry="3" transform="rotate(0 581.4 979.5)" fill="#374959" stroke="#1b252e" stroke-width="1.1"/>
<path d="M607 942C607.3 939.7 609.8 936.8 612 936C614.2 935.2 618.3 935.7 620 937C621.7 938.3 620.5 942 622 944C623.5 946 627.8 946.8 629 949C630.2 951.2 630 955.3 629 957C628 958.7 625 959.7 623 959C621 958.3 619.2 954.5 617 953C614.8 951.5 611.7 951.8 610 950C608.3 948.2 606.7 944.3 607 942Z" fill="#202b35" stroke="#1b252e" stroke-width="1.4" stroke-linejoin="round" />
<ellipse cx="624" cy="953.5" rx="4.6" ry="5.4" transform="rotate(-30 624 953.5)" fill="#879eb2" stroke="#1b252e" stroke-width="1.5"/>
<ellipse cx="624" cy="954" rx="1.7" ry="2" transform="rotate(0 624 954)" fill="#e6eef3" stroke="#1b252e" stroke-width="1"/>
<ellipse cx="619" cy="940.5" rx="1.6" ry="1.2" transform="rotate(0 619 940.5)" fill="#cad9e5" stroke="#1b252e" stroke-width="0.6"/>
<ellipse cx="638" cy="929.6" rx="4.6" ry="5" transform="rotate(0 638 929.6)" fill="none" stroke="#1b252e" stroke-width="3.2"/>
<ellipse cx="638" cy="929.6" rx="4.6" ry="5" transform="rotate(0 638 929.6)" fill="none" stroke="#8ea5b8" stroke-width="0.8"/>
<path d="M309 943L318 935.8L330.6 925.8L335.7 911L348.3 913L361 913L363.4 905.6L372.6 893.6L387 888L401.6 883.6L412.5 888L418 895.4L427 898L431.5 908L444 906.6L447 902.8L460 901.5L464.3 906L464.3 913L484.4 913.6L506.2 920.8L524.4 935.4L531.6 949.9L538.9 966.2L542.5 984.4L546.1 1002.5L557 1017L571.5 1031.5L582.4 1046L590.3 1052L587 1059L575.2 1071.5L560.6 1075L546.1 1062.4L531.6 1049.7L521 1034L510.9 1026.3L495.8 1011.2L485.7 1006.2L475.6 1011.2L468 1003L450.4 998L425.2 1004.5L408.9 1006.5L394.4 1000.6L381.7 986.1L373.5 973L360.9 968L345.8 962L325.6 964.5L313 956Z" fill="#9eb7cb" stroke="#1b252e" stroke-width="2.2" stroke-linejoin="round" />
<path d="M309 943L318 936L331 926L336 911L348 913L352 930L346 948L340 960L326 964.5L313 956Z" fill="#9ab3c7" stroke="#1b252e" stroke-width="1.3" stroke-linejoin="round" />
<path d="M311 940C312.8 937.3 318.3 934 322 934C325.7 934 331.7 937 333 940C334.3 943 332.5 949.2 330 952C327.5 954.8 321.2 957.3 318 957C314.8 956.7 312.2 952.8 311 950C309.8 947.2 309.2 942.7 311 940Z" fill="#dde8f0" stroke="#1b252e" stroke-width="1.2" stroke-linejoin="round" />
<path d="M322 947C324.2 944.5 332.7 941.3 336 943C339.3 944.7 342.7 953.7 342 957C341.3 960.3 335.2 962.8 332 963C328.8 963.2 324.7 960.7 323 958C321.3 955.3 319.8 949.5 322 947Z" fill="#ecf3f8" stroke="#1b252e" stroke-width="1.2" stroke-linejoin="round" />
<path d="M330 926L337 912L345 914L341 929L334 934Z" fill="#c4d7e6" stroke="#1b252e" stroke-width="1.1" stroke-linejoin="round" />
<ellipse cx="313" cy="946" rx="2" ry="3" transform="rotate(0 313 946)" fill="#e6eef3" stroke="#1b252e" stroke-width="1"/>
<path d="M344 916C344.8 911.2 348.3 912.2 352 912C355.7 911.8 363.3 910.2 366 915C368.7 919.8 369.3 935.8 368 941C366.7 946.2 361.5 946 358 946C354.5 946 349.3 946 347 941C344.7 936 343.2 920.8 344 916Z" fill="#b2c8d9" stroke="#1b252e" stroke-width="1.4" stroke-linejoin="round" />
<path d="M349 918L359 917L362 940L352 942Z" fill="#eff5f9" stroke="#1b252e" stroke-width="0.9" stroke-linejoin="round" />
<line x1="345" y1="921" x2="347" y2="941" stroke="#1b252e" stroke-width="1.1" />
<line x1="366" y1="918" x2="367" y2="940" stroke="#1b252e" stroke-width="1.1" />
<path d="M341.7 944L367.1 946.2L374.4 971.6L381.7 986.1L372.6 978.9L360 968L345.8 962L341 958Z" fill="#7692a7" stroke="#1b252e" stroke-width="1.3" stroke-linejoin="round" />
<line x1="343" y1="950" x2="372" y2="962" stroke="#1b252e" stroke-width="1.1" />
<path d="M341.7 943.5L367.1 946.2L369.5 957L354.4 955.3L342.6 951.7Z" fill="#456075" stroke="#1b252e" stroke-width="1.1" stroke-linejoin="round" />
<path d="M362.6 906.3L372.6 893.6L387 888L401.6 883.6L412.5 888L418 895.4L427 899L431 907L424 912L409 921L398 916L388 922L380 925L370 922.6L366 914Z" fill="#afc6d8" stroke="#1b252e" stroke-width="1.4" stroke-linejoin="round" />
<path d="M365 910L374 897L388 891L401 887L410 890L414 896L404 893L390 896L377 902L369 913Z" fill="#cfe0ed" stroke="#1b252e" stroke-width="1" stroke-linejoin="round" />
<path d="M381.5 911.5L407.5 898" fill="none" stroke="#1b252e" stroke-width="12" stroke-linecap="round"/>
<path d="M381.5 911.5L407.5 898" fill="none" stroke="#c0d4e3" stroke-width="9.4" stroke-linecap="round"/>
<path d="M382 909.5L407 896.5" fill="none" stroke="#f2f7fb" stroke-width="4.4" stroke-linecap="round"/>
<ellipse cx="379" cy="913" rx="2" ry="2.6" transform="rotate(0 379 913)" fill="#dde8f0" stroke="#1b252e" stroke-width="1"/>
<path d="M369.9 922.6L379.8 924.4L387.1 933.5L401.6 939L416.1 946.2L427 949.8L436 949.8L428 964.4L421.6 971.6L416.1 986.1L416.1 1000.6L408.9 1006.5L394.4 1000.6L381.7 986.1L374.4 971.6L369 957.1L367.1 942.6Z" fill="#96b0c5" stroke="#1b252e" stroke-width="1.5" stroke-linejoin="round" />
<path d="M369.9 922.6L379.8 924.4L387.1 933.5L401.6 939L416.1 946.2L427 949.8L436 949.8L430 960L414 958L398 952L384 945L374 938L368 936Z" fill="#aec5d7" stroke="#1b252e" stroke-width="1.2" stroke-linejoin="round" />
<path d="M377 948C379.2 945.3 385.2 949.8 390 952C394.8 954.2 402 957.7 406 961C410 964.3 412.5 966.8 414 972C415.5 977.2 416 987.2 415 992C414 996.8 411.2 1000.3 408 1001C404.8 1001.7 400 999 396 996C392 993 387.2 987.7 384 983C380.8 978.3 378.2 973.8 377 968C375.8 962.2 374.8 950.7 377 948Z" fill="#89a4ba" stroke="#1b252e" stroke-width="1.2" stroke-linejoin="round" />
<path d="M380 925L388 922L398 916L409 921L424 912L431 907L437.9 915.4L446 925L440 935L436 949.8L427 949.8L416.1 946.2L401.6 939L387.1 933.5Z" fill="#b7ccdd" stroke="#1b252e" stroke-width="1.2" stroke-linejoin="round" />
<path d="M418 895.4L427 898L431.5 908L444 906.6L447 902.8L460 901.5L464.3 906L464.3 913L484.4 913.6L470 921L452 922L440 915L431 907Z" fill="#7c97ac" stroke="#1b252e" stroke-width="1.2" stroke-linejoin="round" />
<path d="M444 907L448 903.5L459 902.5L463 906.5L462 913L452 916L446 913Z" fill="#bed2e2" stroke="#1b252e" stroke-width="1.2" stroke-linejoin="round" />
<ellipse cx="458" cy="906.5" rx="1.6" ry="1.4" transform="rotate(0 458 906.5)" fill="#587184" stroke="#1b252e" stroke-width="0.8"/>
<path d="M409 921C420 918 428 930 440 931C452 932 458 922 470 922.5C486 923 500 928 510 938C516 944 518 950 520 956" fill="none" stroke="#1b252e" stroke-width="14" stroke-linecap="round"/>
<path d="M409 921C420 918 428 930 440 931C452 932 458 922 470 922.5C486 923 500 928 510 938C516 944 518 950 520 956" fill="none" stroke="#a4bdd0" stroke-width="11.4" stroke-linecap="round"/>
<path d="M409 921C420 918 428 930 440 931C452 932 458 922 470 922.5C486 923 500 928 510 938C516 944 518 950 520 956" fill="none" stroke="#cee0ee" stroke-width="6.5" stroke-linecap="round" transform="translate(-0.6 -1.6)"/>
<path d="M409 921C420 918 428 930 440 931C452 932 458 922 470 922.5C486 923 500 928 510 938C516 944 518 950 520 956" fill="none" stroke="#eff5fa" stroke-width="2.2" stroke-linecap="round" transform="translate(-1 -2.6)"/>
<ellipse cx="410" cy="922" rx="3" ry="3.6" transform="rotate(0 410 922)" fill="#e6eef3" stroke="#1b252e" stroke-width="1.2"/>
<path d="M466.3 913.6L484.4 913.6L506.2 920.8L524.4 935.4L531.6 949.9L538.9 966.2L542.5 984.4L546.1 1002.5L557 1017L548 1015L538.9 1009.8L535.2 998.9L531.6 980.7L526.2 962.6L517.1 944.4L502.6 931.7L484 925L471.7 924Z" fill="#bdd1e1" stroke="#1b252e" stroke-width="1.3" stroke-linejoin="round" />
<path d="M488 944L502.6 934L517.1 944.4L526.2 962.6L531.6 980.7L535.2 998.9L538.9 1009.8L530 1012L520 1000L512 988L500 1000L494 1010L490 985Z" fill="#8ba6bb" stroke="#1b252e" stroke-width="1.2" stroke-linejoin="round" />
<path d="M498 960L510 951L520 957L527 978L530 996L522 992L514 980L504 990Z" fill="#7691a6" stroke="#1b252e" stroke-width="1" stroke-linejoin="round" />
<line x1="489" y1="948" x2="508" y2="938" stroke="#1b252e" stroke-width="5.6" stroke-linecap="round"/>
<line x1="489" y1="948" x2="508" y2="938" stroke="#d9e5ed" stroke-width="3.4" stroke-linecap="round"/>
<line x1="492" y1="962" x2="514" y2="950" stroke="#1b252e" stroke-width="5.6" stroke-linecap="round"/>
<line x1="492" y1="962" x2="514" y2="950" stroke="#d9e5ed" stroke-width="3.4" stroke-linecap="round"/>
<line x1="496" y1="975" x2="520" y2="962" stroke="#1b252e" stroke-width="5.6" stroke-linecap="round"/>
<line x1="496" y1="975" x2="520" y2="962" stroke="#d9e5ed" stroke-width="3.4" stroke-linecap="round"/>
<ellipse cx="467" cy="974" rx="25.5" ry="32" transform="rotate(-14 467 974)" fill="#a5bdd0" stroke="#1b252e" stroke-width="1.7"/>
<ellipse cx="468" cy="974.5" rx="18.5" ry="25" transform="rotate(-14 468 974.5)" fill="#e8f0f6" stroke="#1b252e" stroke-width="1.5"/>
<path d="M478 953C488 966 488 986 477 998C482 984 482 966 478 953Z" fill="#89a4b9" stroke="#1b252e" stroke-width="1"/>
<path d="M462 990C463.7 987.5 472.3 982.8 476 983C479.7 983.2 484 988.2 484 991C484 993.8 479 998.8 476 1000C473 1001.2 468.3 999.7 466 998C463.7 996.3 460.3 992.5 462 990Z" fill="#c4d7e6" stroke="#1b252e" stroke-width="1.1" stroke-linejoin="round" />
<line x1="446" y1="960" x2="452" y2="957" stroke="#1b252e" stroke-width="1.1" />
<line x1="447" y1="990" x2="454" y2="994" stroke="#1b252e" stroke-width="1.1" />
<ellipse cx="447" cy="944" rx="3.4" ry="3.2" transform="rotate(0 447 944)" fill="#dde8f0" stroke="#1b252e" stroke-width="1.2"/>
<ellipse cx="487" cy="944" rx="3.4" ry="3.2" transform="rotate(0 487 944)" fill="#dde8f0" stroke="#1b252e" stroke-width="1.2"/>
<ellipse cx="446" cy="1000" rx="3.4" ry="3.2" transform="rotate(0 446 1000)" fill="#dde8f0" stroke="#1b252e" stroke-width="1.2"/>
<ellipse cx="479" cy="1007" rx="3.4" ry="3.2" transform="rotate(0 479 1007)" fill="#dde8f0" stroke="#1b252e" stroke-width="1.2"/>
<path d="M520.7 1033.3L531.6 1027L542.5 1015.2L557 1017L571.5 1031.5L582.4 1046L590.3 1052L587 1059L575.2 1071.5L560.6 1075L546.1 1062.4L531.6 1049.7Z" fill="#88a3b8" stroke="#1b252e" stroke-width="1.6" stroke-linejoin="round" />
<path d="M545 1020L556 1020L570 1034L581 1049L572 1064L562 1069L566 1050L556 1034Z" fill="#a1bacd" stroke="#1b252e" stroke-width="1.1" stroke-linejoin="round" />
<path d="M527 1035L536 1029L560 1064L553 1064L540 1052Z" fill="#738fa4" stroke="#1b252e" stroke-width="1" stroke-linejoin="round" />
<text x="530.5" y="1041" font-size="6.5" font-weight="bold" style="fill:#121a20;stroke:none" transform="rotate(52 530.5 1041)">TYCO</text>
<line x1="553" y1="1034" x2="560" y2="1027" stroke="#1b252e" stroke-width="2.4" />
<line x1="556" y1="1036" x2="551" y2="1043" stroke="#1b252e" stroke-width="1.2" />
<ellipse cx="556.5" cy="1031" rx="2.2" ry="2.8" transform="rotate(0 556.5 1031)" fill="#cad9e5" stroke="#1b252e" stroke-width="1"/>
<ellipse cx="571.5" cy="1066.5" rx="2" ry="2.6" transform="rotate(0 571.5 1066.5)" fill="#cad9e5" stroke="#1b252e" stroke-width="1"/>
<ellipse cx="528.5" cy="1033.5" rx="1.6" ry="1.6" transform="rotate(0 528.5 1033.5)" fill="#10161b" stroke="#1b252e" stroke-width="0.8"/>
<line x1="587" y1="1054.5" x2="591.5" y2="1049.5" stroke="#1b252e" stroke-width="2.6" />
<path d="M548 1024C560 1034 570 1050 572 1066" fill="none" stroke="#1b252e" stroke-width="1"/>
<path d="M500 1001L527 1022" fill="none" stroke="#1b252e" stroke-width="22.5"/>
<path d="M500 1001L527 1022" fill="none" stroke="#98b2c6" stroke-width="19.6"/>
<path d="M501.5 999L528.5 1020" fill="none" stroke="#dde8f0" stroke-width="11"/>
<path d="M502.5 997.5L529.5 1018.5" fill="none" stroke="#f8fcff" stroke-width="4.6"/>
<line x1="503" y1="1016" x2="517" y2="998" stroke="#1b252e" stroke-width="1.2" />
<line x1="508" y1="1020" x2="522" y2="1002" stroke="#1b252e" stroke-width="1.2" />
<ellipse cx="528" cy="1022.8" rx="8" ry="11.4" transform="rotate(-38 528 1022.8)" fill="#ecf3f8" stroke="#1b252e" stroke-width="1.6"/>
<ellipse cx="528.8" cy="1023.6" rx="5.4" ry="8.4" transform="rotate(-38 528.8 1023.6)" fill="#b0c6d7" stroke="#1b252e" stroke-width="1.1"/>
<ellipse cx="241" cy="1080" rx="6.5" ry="7" transform="rotate(0 241 1080)" fill="#a4bacc" stroke="#1b252e" stroke-width="1.5"/>
<ellipse cx="255.5" cy="1080.5" rx="6" ry="6.5" transform="rotate(0 255.5 1080.5)" fill="#a4bacc" stroke="#1b252e" stroke-width="1.5"/>
<g fill="none" stroke-linejoin="round" stroke-linecap="butt">
<path d="M268 1106C268.3 1108.7 269.5 1117.5 270 1122C270.5 1126.5 270.8 1131.2 271 1133" stroke="#1b252e" stroke-width="17.5"/>
<path d="M268 1106C268.3 1108.7 269.5 1117.5 270 1122C270.5 1126.5 270.8 1131.2 271 1133" stroke="#84a2bb" stroke-width="14.1"/>
<path d="M268 1106C268.3 1108.7 269.5 1117.5 270 1122C270.5 1126.5 270.8 1131.2 271 1133" stroke="#aec7da" stroke-width="8.5"/>
<path d="M268 1106C268.3 1108.7 269.5 1117.5 270 1122C270.5 1126.5 270.8 1131.2 271 1133" stroke="#e3edf4" stroke-width="4.7"/>
</g>
<ellipse cx="271" cy="1133.5" rx="8.2" ry="3.6" transform="rotate(-5 271 1133.5)" fill="#95acbf" stroke="#1b252e" stroke-width="1.4"/>
<g fill="none" stroke-linejoin="round" stroke-linecap="butt">
<path d="M143 1085C145.8 1085.2 154.5 1085.6 160 1086.5C165.5 1087.4 171 1088.7 176 1090.4C181 1092.2 185.7 1094.8 190 1097C194.3 1099.2 198 1101.9 202 1103.5C206 1105.1 210 1106 214 1106.5C218 1107 219.8 1107.3 226 1106.5C232.2 1105.7 242.6 1103.3 251 1101.7C259.4 1100.1 268 1098.4 276.4 1096.7C284.8 1095 294.7 1093.2 301.6 1091.7C308.5 1090.2 313.1 1088.7 318 1088C322.9 1087.3 326.8 1086.8 331 1087.5C335.2 1088.2 339.3 1090.2 343 1092.5C346.7 1094.8 351.3 1099.6 353 1101" stroke="#1b252e" stroke-width="34"/>
<path d="M143 1085C145.8 1085.2 154.5 1085.6 160 1086.5C165.5 1087.4 171 1088.7 176 1090.4C181 1092.2 185.7 1094.8 190 1097C194.3 1099.2 198 1101.9 202 1103.5C206 1105.1 210 1106 214 1106.5C218 1107 219.8 1107.3 226 1106.5C232.2 1105.7 242.6 1103.3 251 1101.7C259.4 1100.1 268 1098.4 276.4 1096.7C284.8 1095 294.7 1093.2 301.6 1091.7C308.5 1090.2 313.1 1088.7 318 1088C322.9 1087.3 326.8 1086.8 331 1087.5C335.2 1088.2 339.3 1090.2 343 1092.5C346.7 1094.8 351.3 1099.6 353 1101" stroke="#84a2bb" stroke-width="30.6"/>
<path d="M143 1085C145.8 1085.2 154.5 1085.6 160 1086.5C165.5 1087.4 171 1088.7 176 1090.4C181 1092.2 185.7 1094.8 190 1097C194.3 1099.2 198 1101.9 202 1103.5C206 1105.1 210 1106 214 1106.5C218 1107 219.8 1107.3 226 1106.5C232.2 1105.7 242.6 1103.3 251 1101.7C259.4 1100.1 268 1098.4 276.4 1096.7C284.8 1095 294.7 1093.2 301.6 1091.7C308.5 1090.2 313.1 1088.7 318 1088C322.9 1087.3 326.8 1086.8 331 1087.5C335.2 1088.2 339.3 1090.2 343 1092.5C346.7 1094.8 351.3 1099.6 353 1101" stroke="#aec7da" stroke-width="18.4"/>
<path d="M143 1085C145.8 1085.2 154.5 1085.6 160 1086.5C165.5 1087.4 171 1088.7 176 1090.4C181 1092.2 185.7 1094.8 190 1097C194.3 1099.2 198 1101.9 202 1103.5C206 1105.1 210 1106 214 1106.5C218 1107 219.8 1107.3 226 1106.5C232.2 1105.7 242.6 1103.3 251 1101.7C259.4 1100.1 268 1098.4 276.4 1096.7C284.8 1095 294.7 1093.2 301.6 1091.7C308.5 1090.2 313.1 1088.7 318 1088C322.9 1087.3 326.8 1086.8 331 1087.5C335.2 1088.2 339.3 1090.2 343 1092.5C346.7 1094.8 351.3 1099.6 353 1101" stroke="#e3edf4" stroke-width="10.1"/>
</g>
<path d="M224 1088L230 1086L300 1072.5L304 1074L310 1108L306 1111L236 1124.5L231 1123Z" fill="url(#gtube)" stroke="#1b252e" stroke-width="1.5" stroke-linejoin="round" />
<line x1="228.5" y1="1087" x2="235" y2="1124" stroke="#1b252e" stroke-width="1.2" />
<line x1="248.5" y1="1083.1" x2="255" y2="1120.1" stroke="#1b252e" stroke-width="1.2" />
<line x1="276.5" y1="1077.6" x2="283" y2="1114.6" stroke="#1b252e" stroke-width="1.2" />
<line x1="298.5" y1="1073.3" x2="305" y2="1110.3" stroke="#1b252e" stroke-width="1.2" />
<line x1="245.5" y1="1083.7" x2="252" y2="1120.7" stroke="#1b252e" stroke-width="1" />
<line x1="273.5" y1="1078.2" x2="280" y2="1115.2" stroke="#1b252e" stroke-width="1" />
<ellipse cx="143.5" cy="1085.5" rx="6" ry="21" transform="rotate(-8 143.5 1085.5)" fill="#6a8295" stroke="#1b252e" stroke-width="1.6"/>
<path d="M128 1066L141 1065L146 1085L143 1106L131 1104Z" fill="#8ea5b8" stroke="#1b252e" stroke-width="1.4" stroke-linejoin="round" />
<ellipse cx="130" cy="1085" rx="8.5" ry="20" transform="rotate(-8 130 1085)" fill="#95acbf" stroke="#1b252e" stroke-width="1.7"/>
<ellipse cx="131" cy="1085.5" rx="6.4" ry="16.5" transform="rotate(-8 131 1085.5)" fill="#cad9e5" stroke="#1b252e" stroke-width="1.3"/>
<ellipse cx="132" cy="1086" rx="4.4" ry="13" transform="rotate(-8 132 1086)" fill="#acc0d1" stroke="#1b252e" stroke-width="1.1"/>
<path d="M126 1087L133 1089L127 1094Z" fill="#31404c" stroke="#1b252e" stroke-width="0.8" stroke-linejoin="round" />
<path d="M336 1094C337 1088.5 343.3 1082.3 348 1081C352.7 1079.7 359.3 1083.2 364 1086C368.7 1088.8 373.7 1093.7 376 1098C378.3 1102.3 379.3 1107.7 378 1112C376.7 1116.3 371.7 1122 368 1124C364.3 1126 360.3 1125.7 356 1124C351.7 1122.3 345.3 1119 342 1114C338.7 1109 335 1099.5 336 1094Z" fill="url(#gtube)" stroke="#1b252e" stroke-width="1.5" stroke-linejoin="round" />
<ellipse cx="366" cy="1107.5" rx="10.5" ry="17.5" transform="rotate(28 366 1107.5)" fill="#dde6ed" stroke="#1b252e" stroke-width="1.5"/>
<ellipse cx="367" cy="1108.5" rx="7.6" ry="14" transform="rotate(28 367 1108.5)" fill="#9ab1c4" stroke="#1b252e" stroke-width="1.2"/>
<ellipse cx="369" cy="1109.5" rx="4.6" ry="10" transform="rotate(28 369 1109.5)" fill="#e6eef3" stroke="#1b252e" stroke-width="1"/>
<path d="M341 1106L347 1104L346 1112L350 1116L343 1113Z" fill="#506576" stroke="#1b252e" stroke-width="0.9" stroke-linejoin="round" />
<ellipse cx="402.5" cy="1130.5" rx="13.5" ry="21.5" transform="rotate(32 402.5 1130.5)" fill="none" stroke="#1b252e" stroke-width="5.4"/>
<ellipse cx="402.5" cy="1130.5" rx="13.5" ry="21.5" transform="rotate(32 402.5 1130.5)" fill="none" stroke="#89a1b5" stroke-width="2"/>
<ellipse cx="405" cy="1131.5" rx="10.5" ry="18" transform="rotate(32 405 1131.5)" fill="none" stroke="#1b252e" stroke-width="1.5"/>
<path d="M381 1133L386 1131L392 1139L391 1147L386 1146L388 1140Z" fill="#31404c" stroke="#1b252e" stroke-width="1.2" stroke-linejoin="round" />
<line x1="381" y1="1136" x2="392" y2="1139" stroke="#1b252e" stroke-width="2.2" />
<g fill="none" stroke-linejoin="round" stroke-linecap="butt">
<path d="M741 1003C742.7 1005.2 747.5 1011.7 751 1016C754.5 1020.3 759.3 1025 762 1029C764.7 1033 767.2 1036.7 767 1040C766.8 1043.3 764.2 1046.2 761 1049C757.8 1051.8 751.8 1053.7 748 1057C744.2 1060.3 739.7 1064.8 738 1069C736.3 1073.2 737 1077.7 738 1082C739 1086.3 741.7 1090.3 744 1095C746.3 1099.7 749.3 1105.2 752 1110C754.7 1114.8 757.3 1119.7 760 1124C762.7 1128.3 766.7 1134 768 1136" stroke="#1b252e" stroke-width="33"/>
<path d="M741 1003C742.7 1005.2 747.5 1011.7 751 1016C754.5 1020.3 759.3 1025 762 1029C764.7 1033 767.2 1036.7 767 1040C766.8 1043.3 764.2 1046.2 761 1049C757.8 1051.8 751.8 1053.7 748 1057C744.2 1060.3 739.7 1064.8 738 1069C736.3 1073.2 737 1077.7 738 1082C739 1086.3 741.7 1090.3 744 1095C746.3 1099.7 749.3 1105.2 752 1110C754.7 1114.8 757.3 1119.7 760 1124C762.7 1128.3 766.7 1134 768 1136" stroke="#84a2bb" stroke-width="29.6"/>
<path d="M741 1003C742.7 1005.2 747.5 1011.7 751 1016C754.5 1020.3 759.3 1025 762 1029C764.7 1033 767.2 1036.7 767 1040C766.8 1043.3 764.2 1046.2 761 1049C757.8 1051.8 751.8 1053.7 748 1057C744.2 1060.3 739.7 1064.8 738 1069C736.3 1073.2 737 1077.7 738 1082C739 1086.3 741.7 1090.3 744 1095C746.3 1099.7 749.3 1105.2 752 1110C754.7 1114.8 757.3 1119.7 760 1124C762.7 1128.3 766.7 1134 768 1136" stroke="#aec7da" stroke-width="17.8"/>
<path d="M741 1003C742.7 1005.2 747.5 1011.7 751 1016C754.5 1020.3 759.3 1025 762 1029C764.7 1033 767.2 1036.7 767 1040C766.8 1043.3 764.2 1046.2 761 1049C757.8 1051.8 751.8 1053.7 748 1057C744.2 1060.3 739.7 1064.8 738 1069C736.3 1073.2 737 1077.7 738 1082C739 1086.3 741.7 1090.3 744 1095C746.3 1099.7 749.3 1105.2 752 1110C754.7 1114.8 757.3 1119.7 760 1124C762.7 1128.3 766.7 1134 768 1136" stroke="#e3edf4" stroke-width="9.8"/>
</g>
<path d="M722.5 1004C722 999.3 723.8 996.1 726 993C728.2 989.9 732.3 986.5 736 985.5C739.7 984.5 743.5 984.2 748 987C752.5 989.8 759.8 998.3 763 1002C766.2 1005.7 767.5 1006 767 1009C766.5 1012 763.2 1016.5 760 1020C756.8 1023.5 751.4 1027.6 748 1030C744.6 1032.4 742.7 1036 739.5 1034.5C736.3 1033 731.8 1026.1 729 1021C726.2 1015.9 723 1008.7 722.5 1004Z" fill="url(#gtube2)" stroke="#1b252e" stroke-width="1.6" stroke-linejoin="round" />
<path d="M739.5 1034.5C748 1031 760 1021 767 1009" fill="none" stroke="#1b252e" stroke-width="1.4"/>
<path d="M736 1031C744 1027 756 1017 763.5 1005" fill="none" stroke="#1b252e" stroke-width="1"/>
<path d="M722.5 1004C724 994 733 987 741 986.5C734 993 729 1003 730.5 1013C731 1019 734 1027 739.5 1034.5C731 1027 724 1016 722.5 1004Z" fill="#7a94a8" stroke="#1b252e" stroke-width="1.1"/>
<ellipse cx="774" cy="1144" rx="21" ry="14.5" transform="rotate(-22 774 1144)" fill="#6a8295" stroke="#1b252e" stroke-width="1.7"/>
<ellipse cx="776" cy="1147.5" rx="21" ry="14.5" transform="rotate(-22 776 1147.5)" fill="#a4bacc" stroke="#1b252e" stroke-width="1.6"/>
<ellipse cx="777.5" cy="1149.5" rx="17.5" ry="11.5" transform="rotate(-22 777.5 1149.5)" fill="#5a7183" stroke="#1b252e" stroke-width="1.4"/>
<ellipse cx="778.5" cy="1151" rx="14" ry="8.6" transform="rotate(-22 778.5 1151)" fill="#cad9e5" stroke="#1b252e" stroke-width="1.3"/>
<ellipse cx="780.5" cy="1152.5" rx="10.5" ry="6" transform="rotate(-22 780.5 1152.5)" fill="#8ea5b8" stroke="#1b252e" stroke-width="1"/>
<ellipse cx="706" cy="975.5" rx="19" ry="11.5" transform="rotate(-38 706 975.5)" fill="none" stroke="#1b252e" stroke-width="5.6"/>
<ellipse cx="706" cy="975.5" rx="19" ry="11.5" transform="rotate(-38 706 975.5)" fill="none" stroke="#89a1b5" stroke-width="2.2"/>
<ellipse cx="707.5" cy="978" rx="16" ry="9" transform="rotate(-38 707.5 978)" fill="none" stroke="#1b252e" stroke-width="1.5"/>
<path d="M686 984L692 981L697 988L694 994L689 992Z" fill="#31404c" stroke="#1b252e" stroke-width="1.2" stroke-linejoin="round" />
<line x1="685" y1="986.5" x2="699" y2="990" stroke="#1b252e" stroke-width="2.2" />
<g fill="none" stroke-linejoin="round" stroke-linecap="butt">
<path d="M887.8 1155C887.8 1157 888.1 1163 887.5 1167C886.9 1171 886.2 1175.4 884 1179C881.8 1182.6 879.5 1186.6 874 1188.5C868.5 1190.4 859.2 1190.4 851.2 1190.5C843.2 1190.6 833.5 1188.7 826 1189C818.5 1189.3 811.2 1191.6 806 1192.5C800.8 1193.4 796.8 1194.2 795 1194.5" stroke="#1b252e" stroke-width="19.5"/>
<path d="M887.8 1155C887.8 1157 888.1 1163 887.5 1167C886.9 1171 886.2 1175.4 884 1179C881.8 1182.6 879.5 1186.6 874 1188.5C868.5 1190.4 859.2 1190.4 851.2 1190.5C843.2 1190.6 833.5 1188.7 826 1189C818.5 1189.3 811.2 1191.6 806 1192.5C800.8 1193.4 796.8 1194.2 795 1194.5" stroke="#84a2bb" stroke-width="16.1"/>
<path d="M887.8 1155C887.8 1157 888.1 1163 887.5 1167C886.9 1171 886.2 1175.4 884 1179C881.8 1182.6 879.5 1186.6 874 1188.5C868.5 1190.4 859.2 1190.4 851.2 1190.5C843.2 1190.6 833.5 1188.7 826 1189C818.5 1189.3 811.2 1191.6 806 1192.5C800.8 1193.4 796.8 1194.2 795 1194.5" stroke="#aec7da" stroke-width="9.7"/>
<path d="M887.8 1155C887.8 1157 888.1 1163 887.5 1167C886.9 1171 886.2 1175.4 884 1179C881.8 1182.6 879.5 1186.6 874 1188.5C868.5 1190.4 859.2 1190.4 851.2 1190.5C843.2 1190.6 833.5 1188.7 826 1189C818.5 1189.3 811.2 1191.6 806 1192.5C800.8 1193.4 796.8 1194.2 795 1194.5" stroke="#e3edf4" stroke-width="5.3"/>
</g>
<g fill="none" stroke-linejoin="round" stroke-linecap="butt">
<path d="M772 1196C770 1197.1 764.4 1199.7 760 1202.5C755.6 1205.3 747.9 1211.2 745.5 1213" stroke="#1b252e" stroke-width="11"/>
<path d="M772 1196C770 1197.1 764.4 1199.7 760 1202.5C755.6 1205.3 747.9 1211.2 745.5 1213" stroke="#84a2bb" stroke-width="7.6"/>
<path d="M772 1196C770 1197.1 764.4 1199.7 760 1202.5C755.6 1205.3 747.9 1211.2 745.5 1213" stroke="#aec7da" stroke-width="4.6"/>
<path d="M772 1196C770 1197.1 764.4 1199.7 760 1202.5C755.6 1205.3 747.9 1211.2 745.5 1213" stroke="#e3edf4" stroke-width="2.5"/>
</g>
<ellipse cx="745.5" cy="1213" rx="3.4" ry="5.6" transform="rotate(-35 745.5 1213)" fill="#dde6ed" stroke="#1b252e" stroke-width="1.2"/>
<path d="M757 1192C757.7 1188.7 762.5 1185.5 766 1184C769.5 1182.5 774.5 1182.3 778 1183C781.5 1183.7 785.2 1185.2 787 1188C788.8 1190.8 789.7 1196.8 789 1200C788.3 1203.2 786.2 1205.5 783 1207C779.8 1208.5 773.5 1209.5 770 1209C766.5 1208.5 764.2 1206.8 762 1204C759.8 1201.2 756.3 1195.3 757 1192Z" fill="#506676" stroke="#1b252e" stroke-width="1.5" stroke-linejoin="round" />
<ellipse cx="765" cy="1193.5" rx="4.6" ry="4.2" transform="rotate(0 765 1193.5)" fill="#a9bdce" stroke="#1b252e" stroke-width="1.3"/>
<ellipse cx="765" cy="1193.5" rx="1.8" ry="1.6" transform="rotate(0 765 1193.5)" fill="#2a3641" stroke="#1b252e" stroke-width="0.8"/>
<path d="M788 1185L801 1183L804 1201L791 1204Z" fill="#7a92a5" stroke="#1b252e" stroke-width="1.4" stroke-linejoin="round" />
<line x1="793" y1="1184.5" x2="796" y2="1203.5" stroke="#1b252e" stroke-width="1.8" />
<line x1="795" y1="1204" x2="797" y2="1209" stroke="#1b252e" stroke-width="2.2" />
<path d="M874 1143L900 1145L902 1161L898 1169L877 1168L873 1159Z" fill="#8aa1b4" stroke="#1b252e" stroke-width="1.5" stroke-linejoin="round" />
<ellipse cx="887.5" cy="1144" rx="12.5" ry="5.2" transform="rotate(4 887.5 1144)" fill="#5a7183" stroke="#1b252e" stroke-width="1.6"/>
<ellipse cx="887.5" cy="1144" rx="9" ry="3.2" transform="rotate(4 887.5 1144)" fill="#dde6ed" stroke="#1b252e" stroke-width="1.1"/>
<path d="M874 1151 Q888 1156 902 1152.5" fill="none" stroke="#1b252e" stroke-width="1.6"/>
<path d="M874 1156 Q888 1161 902 1157.5" fill="none" stroke="#1b252e" stroke-width="1.6"/>
<path d="M874 1161 Q888 1166 902 1162.5" fill="none" stroke="#1b252e" stroke-width="1.6"/>
<path d="M897 1146L904 1144L905.5 1160L899 1162Z" fill="#2a3641" stroke="#1b252e" stroke-width="1.2" stroke-linejoin="round" />
<line x1="379" y1="259" x2="379" y2="290" stroke="#15171a" stroke-width="1.7" />
<line x1="273" y1="446" x2="273" y2="478" stroke="#15171a" stroke-width="1.7" />
<line x1="403.4" y1="480.5" x2="403.4" y2="512" stroke="#15171a" stroke-width="1.7" />
<line x1="472.7" y1="465" x2="472.7" y2="492" stroke="#15171a" stroke-width="1.7" />
<line x1="507" y1="513" x2="507" y2="533" stroke="#15171a" stroke-width="1.7" />
<line x1="611.7" y1="263.3" x2="611.7" y2="317" stroke="#15171a" stroke-width="1.7" />
<line x1="680.5" y1="281.7" x2="680.5" y2="301" stroke="#15171a" stroke-width="1.7" />
<line x1="748.8" y1="500.5" x2="748.8" y2="532" stroke="#15171a" stroke-width="1.7" />
<line x1="803" y1="487.7" x2="803" y2="519.2" stroke="#15171a" stroke-width="1.7" />
<line x1="596.9" y1="533" x2="596.9" y2="552" stroke="#15171a" stroke-width="1.7" />
<line x1="568" y1="548.4" x2="568" y2="569.8" stroke="#15171a" stroke-width="1.7" />
<line x1="624.6" y1="549" x2="624.6" y2="574.8" stroke="#15171a" stroke-width="1.7" />
<line x1="656.6" y1="549" x2="656.6" y2="568.5" stroke="#15171a" stroke-width="1.7" />
<line x1="810" y1="655" x2="810" y2="679" stroke="#15171a" stroke-width="1.7" />
<line x1="738" y1="674.4" x2="738" y2="698" stroke="#15171a" stroke-width="1.7" />
<line x1="199.7" y1="619" x2="199.7" y2="693.3" stroke="#15171a" stroke-width="1.7" />
<line x1="244.3" y1="600" x2="244.3" y2="666.9" stroke="#15171a" stroke-width="1.7" />
<line x1="287.2" y1="619" x2="287.2" y2="640.4" stroke="#15171a" stroke-width="1.7" />
<line x1="409.7" y1="628" x2="409.7" y2="639" stroke="#15171a" stroke-width="1.7" />
<line x1="503" y1="627" x2="503" y2="639" stroke="#15171a" stroke-width="1.7" />
<line x1="456.3" y1="626.7" x2="456.3" y2="658" stroke="#15171a" stroke-width="1.7" />
<line x1="350.8" y1="648" x2="350.8" y2="666" stroke="#15171a" stroke-width="1.7" />
<line x1="556.5" y1="668" x2="556.5" y2="682" stroke="#15171a" stroke-width="1.7" />
<line x1="582.6" y1="654" x2="582.6" y2="699" stroke="#15171a" stroke-width="1.7" />
<line x1="689" y1="798.6" x2="689" y2="822.5" stroke="#15171a" stroke-width="1.7" />
<line x1="117.8" y1="683.2" x2="117.8" y2="706" stroke="#15171a" stroke-width="1.7" />
<line x1="616.6" y1="876.7" x2="616.6" y2="934" stroke="#15171a" stroke-width="1.7" />
<line x1="642" y1="894.4" x2="642" y2="924" stroke="#15171a" stroke-width="1.7" />
<line x1="740.3" y1="911.8" x2="740.3" y2="985" stroke="#15171a" stroke-width="1.7" />
<line x1="707.4" y1="929" x2="707.4" y2="958" stroke="#15171a" stroke-width="1.7" />
<line x1="795.3" y1="909.3" x2="795.3" y2="938.5" stroke="#15171a" stroke-width="1.7" />
<line x1="908" y1="850" x2="908" y2="871.5" stroke="#15171a" stroke-width="1.7" />
<line x1="582.2" y1="940.5" x2="582.2" y2="970.7" stroke="#15171a" stroke-width="1.7" />
<line x1="387.9" y1="860" x2="387.9" y2="888.5" stroke="#15171a" stroke-width="1.7" />
<line x1="358.5" y1="1125.7" x2="358.5" y2="1193.2" stroke="#15171a" stroke-width="1.7" />
<line x1="399" y1="1152" x2="399" y2="1176" stroke="#15171a" stroke-width="1.7" />
<line x1="461" y1="306.5" x2="492.6" y2="306.5" stroke="#15171a" stroke-width="1.7" />
<line x1="426" y1="406.6" x2="456" y2="406.6" stroke="#15171a" stroke-width="1.7" />
<line x1="234.8" y1="343.9" x2="265" y2="343.9" stroke="#15171a" stroke-width="1.7" />
<line x1="730" y1="300" x2="760.4" y2="300" stroke="#15171a" stroke-width="1.7" />
<line x1="570" y1="368.7" x2="599" y2="368.7" stroke="#15171a" stroke-width="1.7" />
<line x1="631" y1="466.5" x2="661" y2="466.5" stroke="#15171a" stroke-width="1.7" />
<line x1="701.5" y1="599.3" x2="757" y2="599.3" stroke="#15171a" stroke-width="1.7" />
<line x1="672.5" y1="619.4" x2="730.4" y2="619.4" stroke="#15171a" stroke-width="1.7" />
<line x1="817" y1="708" x2="846" y2="708" stroke="#15171a" stroke-width="1.7" />
<line x1="559.4" y1="741.4" x2="580.8" y2="741.4" stroke="#15171a" stroke-width="1.7" />
<line x1="496.4" y1="781" x2="570.7" y2="781" stroke="#15171a" stroke-width="1.7" />
<line x1="522.8" y1="796.8" x2="543" y2="796.8" stroke="#15171a" stroke-width="1.7" />
<line x1="167" y1="750.5" x2="208.5" y2="750.5" stroke="#15171a" stroke-width="1.7" />
<line x1="178.3" y1="771.4" x2="196" y2="771.4" stroke="#15171a" stroke-width="1.7" />
<line x1="845" y1="1144" x2="873.9" y2="1144" stroke="#15171a" stroke-width="1.7" />
<line x1="456" y1="345" x2="443" y2="357" stroke="#15171a" stroke-width="1.7" />
<path d="M363 262.3L372 253.3L416.5 253.3L422 247.3L427.5 253.3L474 253.3L483 262.3" fill="none" stroke="#15171a" stroke-width="1.6" stroke-linejoin="miter"/>
<path d="M588.8 266L597.8 257L642.5 257L648 251L653.5 257L700 257L709 266" fill="none" stroke="#15171a" stroke-width="1.6" stroke-linejoin="miter"/>
<path d="M179.4 604L188.4 595L238.3 595L243.8 589L249.3 595L300.5 595L309.5 604" fill="none" stroke="#15171a" stroke-width="1.6" stroke-linejoin="miter"/>
<path d="M602 882L611 873L627 873L632.5 867L638 873L655 873L664 882" fill="none" stroke="#15171a" stroke-width="1.6" stroke-linejoin="miter"/>
<path d="M684.6 915.5L693.6 906.5L715.8 906.5L721.3 900.5L726.8 906.5L746.5 906.5L755.5 915.5" fill="none" stroke="#15171a" stroke-width="1.6" stroke-linejoin="miter"/>
<path d="M392 654.5L401 663.5L451.2 663.5L456.7 669.5L462.2 663.5L511 663.5L520 654.5" fill="none" stroke="#15171a" stroke-width="1.6" stroke-linejoin="miter"/>
<path d="M532.7 694.3L541.7 703.3L577.8 703.3L583.3 709.3L588.8 703.3L627.4 703.3L636.4 694.3" fill="none" stroke="#15171a" stroke-width="1.6" stroke-linejoin="miter"/>
<path d="M340.2 1189.3L349.2 1198.3L378.2 1198.3L383.7 1204.3L389.2 1198.3L419.8 1198.3L428.8 1189.3" fill="none" stroke="#15171a" stroke-width="1.6" stroke-linejoin="miter"/>
<path d="M756.4 564.4L765.4 573.4L765.4 596.1L771.4 601.6L765.4 607.1L765.4 628.9L756.4 637.9" fill="none" stroke="#15171a" stroke-width="1.6" stroke-linejoin="miter"/>
<path d="M205.6 733.5L213.6 742.5L213.6 758.4L219.6 763.9L213.6 769.4L213.6 784L205.6 793" fill="none" stroke="#15171a" stroke-width="1.6" stroke-linejoin="miter"/>
<path d="M500.3 733L491.3 742L491.3 786.8L485.3 792.3L491.3 797.8L491.3 842.7L500.3 851.7" fill="none" stroke="#15171a" stroke-width="1.6" stroke-linejoin="miter"/>
<text transform="translate(424 243.4) scale(0.93 1)" text-anchor="middle" font-size="23.6">38</text>
<text transform="translate(410 273.4) scale(0.93 1)" text-anchor="middle" font-size="23.6">39</text>
<text transform="translate(455.5 273.4) scale(0.93 1)" text-anchor="middle" font-size="23.6">40</text>
<text transform="translate(508.5 313.4) scale(0.93 1)" text-anchor="middle" font-size="23.6">41</text>
<text transform="translate(466 341.4) scale(0.93 1)" text-anchor="middle" font-size="23.6">40</text>
<text transform="translate(412.5 414.4) scale(0.93 1)" text-anchor="middle" font-size="23.6">39</text>
<text transform="translate(282 350.6) scale(0.93 1)" text-anchor="middle" font-size="23.6">28</text>
<text transform="translate(274 442.4) scale(0.93 1)" text-anchor="middle" font-size="23.6">42</text>
<text transform="translate(404 474.4) scale(0.93 1)" text-anchor="middle" font-size="23.6">2</text>
<text transform="translate(472.7 459.4) scale(0.93 1)" text-anchor="middle" font-size="23.6">4</text>
<text transform="translate(508 509.9) scale(0.93 1)" text-anchor="middle" font-size="23.6">3</text>
<text transform="translate(646 245.4) scale(0.93 1)" text-anchor="middle" font-size="23.6">14</text>
<text transform="translate(640.6 277.1) scale(0.93 1)" text-anchor="middle" font-size="23.6">15</text>
<text transform="translate(679 277.1) scale(0.93 1)" text-anchor="middle" font-size="23.6">16</text>
<text transform="translate(775.5 307.4) scale(0.93 1)" text-anchor="middle" font-size="23.6">17</text>
<text transform="translate(555 376.4) scale(0.93 1)" text-anchor="middle" font-size="23.6">17</text>
<text transform="translate(675 473.4) scale(0.93 1)" text-anchor="middle" font-size="23.6">15</text>
<text transform="translate(748 497.1) scale(0.93 1)" text-anchor="middle" font-size="23.6">12</text>
<text transform="translate(803.8 483.1) scale(0.93 1)" text-anchor="middle" font-size="23.6">17</text>
<text transform="translate(598.8 570.4) scale(0.93 1)" text-anchor="middle" font-size="23.6">43</text>
<text transform="translate(566.6 587.8) scale(0.93 1)" text-anchor="middle" font-size="23.6">19</text>
<text transform="translate(625 546.4) scale(0.93 1)" text-anchor="middle" font-size="23.6">23</text>
<text transform="translate(656 546.4) scale(0.93 1)" text-anchor="middle" font-size="23.6">17</text>
<text transform="translate(747 587.8) scale(0.93 1)" text-anchor="middle" font-size="23.6">19</text>
<text transform="translate(784 607.8) scale(0.93 1)" text-anchor="middle" font-size="23.6">18</text>
<text transform="translate(748.7 625.4) scale(0.93 1)" text-anchor="middle" font-size="23.6">20</text>
<text transform="translate(810 651.9) scale(0.93 1)" text-anchor="middle" font-size="23.6">13</text>
<text transform="translate(739 671) scale(0.93 1)" text-anchor="middle" font-size="23.6">25</text>
<text transform="translate(858.8 714.4) scale(0.93 1)" text-anchor="middle" font-size="23.6">13</text>
<text transform="translate(242 583.4) scale(0.93 1)" text-anchor="middle" font-size="23.6">10</text>
<text transform="translate(198 615.1) scale(0.93 1)" text-anchor="middle" font-size="23.6">11</text>
<text transform="translate(286 615.1) scale(0.93 1)" text-anchor="middle" font-size="23.6">11</text>
<text transform="translate(410 657.4) scale(0.93 1)" text-anchor="middle" font-size="23.6">6</text>
<text transform="translate(503.6 657.4) scale(0.93 1)" text-anchor="middle" font-size="23.6">7</text>
<text transform="translate(457 690.4) scale(0.93 1)" text-anchor="middle" font-size="23.6">5</text>
<text transform="translate(350 684.4) scale(0.93 1)" text-anchor="middle" font-size="23.6">1</text>
<text transform="translate(557.5 698.2) scale(0.93 1)" text-anchor="middle" font-size="23.6">22</text>
<text transform="translate(614.8 698.2) scale(0.93 1)" text-anchor="middle" font-size="23.6">23</text>
<text transform="translate(585 727.2) scale(0.93 1)" text-anchor="middle" font-size="23.6">21</text>
<text transform="translate(544 748.4) scale(0.93 1)" text-anchor="middle" font-size="23.6">13</text>
<text transform="translate(473 800.4) scale(0.93 1)" text-anchor="middle" font-size="23.6">24</text>
<text transform="translate(509 765) scale(0.93 1)" text-anchor="middle" font-size="23.6">25</text>
<text transform="translate(509 804) scale(0.93 1)" text-anchor="middle" font-size="23.6">26</text>
<text transform="translate(509 834.4) scale(0.93 1)" text-anchor="middle" font-size="23.6">27</text>
<text transform="translate(691.7 841.9) scale(0.93 1)" text-anchor="middle" font-size="23.6">27</text>
<text transform="translate(116.5 678.6) scale(0.93 1)" text-anchor="middle" font-size="23.6">13</text>
<text transform="translate(230.6 770.6) scale(0.93 1)" text-anchor="middle" font-size="23.6">8</text>
<text transform="translate(204.7 778.2) scale(0.93 1)" text-anchor="middle" font-size="23.6">9</text>
<text transform="translate(633.7 862) scale(0.93 1)" text-anchor="middle" font-size="23.6">35</text>
<text transform="translate(643 891) scale(0.93 1)" text-anchor="middle" font-size="23.6">36</text>
<text transform="translate(721.4 897.1) scale(0.93 1)" text-anchor="middle" font-size="23.6">33</text>
<text transform="translate(708 925.8) scale(0.93 1)" text-anchor="middle" font-size="23.6">34</text>
<text transform="translate(798.3 904.6) scale(0.93 1)" text-anchor="middle" font-size="23.6">27</text>
<text transform="translate(907 845.4) scale(0.93 1)" text-anchor="middle" font-size="23.6">13</text>
<text transform="translate(582.7 937.1) scale(0.93 1)" text-anchor="middle" font-size="23.6">37</text>
<text transform="translate(388.6 856.9) scale(0.93 1)" text-anchor="middle" font-size="23.6">30</text>
<text transform="translate(831 1150.2) scale(0.93 1)" text-anchor="middle" font-size="23.6">29</text>
<text transform="translate(401 1192.9) scale(0.93 1)" text-anchor="middle" font-size="23.6">32</text>
<text transform="translate(384.5 1221.9) scale(0.93 1)" text-anchor="middle" font-size="23.6">31</text>
<g style="mix-blend-mode:multiply">
<text y="728.2" font-size="151" font-weight="bold" style="fill:#fbdddc;stroke:none"><tspan x="71.83" textLength="75.33" lengthAdjust="spacingAndGlyphs">s</tspan><tspan x="149.39" textLength="79.82" lengthAdjust="spacingAndGlyphs">c</tspan><tspan x="230.88" textLength="89.80" lengthAdjust="spacingAndGlyphs">u</tspan><tspan x="320.36" textLength="84.00" lengthAdjust="spacingAndGlyphs">d</tspan><tspan x="404.21" textLength="82.35" lengthAdjust="spacingAndGlyphs">e</tspan><tspan x="491.17" textLength="49.77" lengthAdjust="spacingAndGlyphs">r</tspan><tspan x="539.58" textLength="39.48" lengthAdjust="spacingAndGlyphs">i</tspan><tspan x="582.20" textLength="68.43" lengthAdjust="spacingAndGlyphs">a</tspan></text>
<text x="74.4 148.8 221.8 290.0 349.3 426.5 500.8 567.5 632.6" y="784.5" font-size="41" font-weight="bold" style="fill:#e5e5e7;stroke:none">car parts</text>
<g style="fill:#e2e3e6">
<path d="M673 624L714.1 637.1L721.6 666.2L679 653Z"/>
<path d="M685 682L729.3 696.2L737.1 726.2L691 711Z"/>
<path d="M706.6 607.8L741 618.5L749.9 647.9L714.1 637.1Z"/>
<path d="M721.6 666.2L758.6 676.9L767.9 707.7L729.3 696.2Z"/>
<path d="M737.1 726.2L777.2 738.5L787 771L745 757Z"/>
<path d="M749.9 647.9L780.8 657.5L790.5 685.4L758.6 676.9Z"/>
<path d="M767.9 707.7L801.2 716L811.9 746.7L777.2 738.5Z"/>
<path d="M770.8 629L798 638L808.6 665L780.8 657.5Z"/>
<path d="M790.5 685.4L819 691.1L830.6 720.8L801.2 716Z"/>
<path d="M811.9 746.7L842.4 750.5L855.3 783.3L823.5 779.7Z"/>
<path d="M808.6 665L834.7 672.4L845.5 696.5L819 691.1Z"/>
<path d="M830.6 720.8L858.1 724.7L870.7 753L842.4 750.5Z"/>
<path d="M823.5 647.3L847 654.5L858.2 678.5L834.7 672.4Z"/>
<path d="M845.5 696.5L868.9 701.3L881.8 729L858.1 724.7Z"/>
<path d="M870.7 753L894.7 756.8L909.7 788.8L885 785Z"/>
<path d="M858.2 678.5L879.2 683.5L889.8 705.2L868.9 701.3Z"/>
<path d="M881.8 729L903 732.4L916.3 759.8L894.7 756.8Z"/>
</g>
</g>
</svg></body></html>
